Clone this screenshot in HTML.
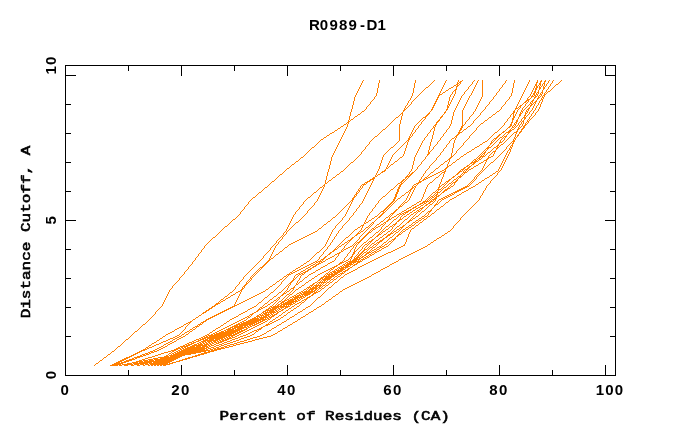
<!DOCTYPE html>
<html><head><meta charset="utf-8"><title>R0989-D1</title>
<style>html,body{margin:0;padding:0;background:#fff}svg{display:block}</style></head>
<body>
<svg width="680" height="440" viewBox="0 0 680 440">
<rect width="680" height="440" fill="#fff"/>
<path fill="#ff7f00" shape-rendering="crispEdges" d="M363 80h1v1h-1zM379 80h1v1h-1zM415 80h1v1h-1zM434 80h1v1h-1zM446 80h1v1h-1zM458 80h1v1h-1zM462 80h1v1h-1zM474 80h1v1h-1zM478 80h1v1h-1zM482 80h1v1h-1zM506 80h1v1h-1zM514 80h1v1h-1zM529 80h1v1h-1zM537 80h1v1h-1zM541 80h1v1h-1zM545 80h1v1h-1zM549 80h1v1h-1zM553 80h1v1h-1zM561 80h1v1h-1zM362 81h1v1h-1zM379 81h1v1h-1zM415 81h1v1h-1zM433 81h1v1h-1zM445 81h1v1h-1zM458 81h1v1h-1zM460 81h2v1h-2zM473 81h1v1h-1zM477 81h1v1h-1zM482 81h1v1h-1zM505 81h1v1h-1zM514 81h1v1h-1zM529 81h1v1h-1zM537 81h1v1h-1zM540 81h2v1h-2zM544 81h2v1h-2zM548 81h1v1h-1zM552 81h1v1h-1zM560 81h1v1h-1zM362 82h1v1h-1zM379 82h1v1h-1zM415 82h1v1h-1zM432 82h1v1h-1zM445 82h1v1h-1zM457 82h1v1h-1zM459 82h2v1h-2zM472 82h1v1h-1zM477 82h1v1h-1zM482 82h1v1h-1zM505 82h1v1h-1zM514 82h1v1h-1zM528 82h1v1h-1zM536 82h2v1h-2zM540 82h1v1h-1zM544 82h1v1h-1zM548 82h1v1h-1zM552 82h1v1h-1zM559 82h1v1h-1zM361 83h1v1h-1zM378 83h1v1h-1zM414 83h1v1h-1zM431 83h1v1h-1zM444 83h1v1h-1zM457 83h2v1h-2zM460 83h1v1h-1zM472 83h1v1h-1zM476 83h1v1h-1zM482 83h1v1h-1zM504 83h1v1h-1zM513 83h1v1h-1zM528 83h1v1h-1zM536 83h1v1h-1zM539 83h2v1h-2zM543 83h2v1h-2zM547 83h1v1h-1zM551 83h1v1h-1zM558 83h1v1h-1zM361 84h1v1h-1zM378 84h1v1h-1zM414 84h1v1h-1zM430 84h1v1h-1zM444 84h1v1h-1zM456 84h2v1h-2zM459 84h1v1h-1zM471 84h1v1h-1zM476 84h1v1h-1zM482 84h1v1h-1zM503 84h1v1h-1zM513 84h1v1h-1zM527 84h1v1h-1zM535 84h2v1h-2zM539 84h2v1h-2zM542 84h1v1h-1zM544 84h1v1h-1zM546 84h1v1h-1zM550 84h1v1h-1zM556 84h2v1h-2zM360 85h1v1h-1zM378 85h1v1h-1zM414 85h1v1h-1zM429 85h1v1h-1zM443 85h1v1h-1zM454 85h2v1h-2zM457 85h2v1h-2zM470 85h1v1h-1zM475 85h1v1h-1zM482 85h1v1h-1zM502 85h1v1h-1zM513 85h1v1h-1zM527 85h1v1h-1zM535 85h2v1h-2zM538 85h1v1h-1zM540 85h1v1h-1zM542 85h1v1h-1zM544 85h1v1h-1zM546 85h1v1h-1zM550 85h1v1h-1zM555 85h1v1h-1zM360 86h1v1h-1zM378 86h1v1h-1zM414 86h1v1h-1zM428 86h1v1h-1zM443 86h1v1h-1zM453 86h1v1h-1zM456 86h2v1h-2zM469 86h1v1h-1zM475 86h1v1h-1zM482 86h1v1h-1zM502 86h1v1h-1zM513 86h1v1h-1zM526 86h1v1h-1zM534 86h1v1h-1zM536 86h2v1h-2zM539 86h1v1h-1zM541 86h1v1h-1zM543 86h1v1h-1zM545 86h1v1h-1zM549 86h1v1h-1zM554 86h1v1h-1zM359 87h1v1h-1zM378 87h1v1h-1zM414 87h1v1h-1zM426 87h2v1h-2zM442 87h1v1h-1zM451 87h2v1h-2zM456 87h1v1h-1zM468 87h1v1h-1zM474 87h1v1h-1zM482 87h1v1h-1zM501 87h1v1h-1zM513 87h1v1h-1zM526 87h1v1h-1zM534 87h1v1h-1zM536 87h2v1h-2zM539 87h2v1h-2zM543 87h2v1h-2zM548 87h1v1h-1zM553 87h1v1h-1zM359 88h1v1h-1zM377 88h1v1h-1zM413 88h1v1h-1zM425 88h1v1h-1zM442 88h1v1h-1zM449 88h2v1h-2zM456 88h1v1h-1zM468 88h1v1h-1zM474 88h1v1h-1zM482 88h1v1h-1zM500 88h1v1h-1zM512 88h1v1h-1zM525 88h1v1h-1zM533 88h1v1h-1zM535 88h2v1h-2zM539 88h2v1h-2zM543 88h2v1h-2zM548 88h1v1h-1zM552 88h1v1h-1zM358 89h1v1h-1zM377 89h1v1h-1zM413 89h1v1h-1zM424 89h1v1h-1zM441 89h1v1h-1zM448 89h1v1h-1zM455 89h2v1h-2zM467 89h1v1h-1zM473 89h1v1h-1zM482 89h1v1h-1zM499 89h1v1h-1zM512 89h1v1h-1zM525 89h1v1h-1zM533 89h1v1h-1zM535 89h2v1h-2zM539 89h1v1h-1zM543 89h1v1h-1zM547 89h1v1h-1zM551 89h1v1h-1zM358 90h1v1h-1zM377 90h1v1h-1zM413 90h1v1h-1zM423 90h1v1h-1zM441 90h1v1h-1zM446 90h2v1h-2zM454 90h2v1h-2zM466 90h1v1h-1zM473 90h1v1h-1zM482 90h1v1h-1zM499 90h1v1h-1zM512 90h1v1h-1zM524 90h1v1h-1zM532 90h1v1h-1zM535 90h1v1h-1zM538 90h1v1h-1zM542 90h1v1h-1zM546 90h1v1h-1zM550 90h1v1h-1zM357 91h1v1h-1zM377 91h1v1h-1zM413 91h1v1h-1zM422 91h1v1h-1zM440 91h1v1h-1zM445 91h1v1h-1zM453 91h1v1h-1zM455 91h1v1h-1zM465 91h1v1h-1zM472 91h1v1h-1zM482 91h1v1h-1zM498 91h1v1h-1zM512 91h1v1h-1zM524 91h1v1h-1zM532 91h1v1h-1zM534 91h2v1h-2zM538 91h1v1h-1zM542 91h1v1h-1zM546 91h1v1h-1zM548 91h2v1h-2zM357 92h1v1h-1zM377 92h1v1h-1zM413 92h1v1h-1zM421 92h1v1h-1zM440 92h1v1h-1zM443 92h2v1h-2zM452 92h1v1h-1zM455 92h1v1h-1zM464 92h1v1h-1zM472 92h1v1h-1zM482 92h1v1h-1zM497 92h1v1h-1zM512 92h1v1h-1zM523 92h1v1h-1zM531 92h1v1h-1zM534 92h2v1h-2zM537 92h2v1h-2zM541 92h2v1h-2zM545 92h1v1h-1zM547 92h1v1h-1zM356 93h1v1h-1zM376 93h1v1h-1zM412 93h1v1h-1zM420 93h1v1h-1zM439 93h1v1h-1zM442 93h1v1h-1zM452 93h1v1h-1zM455 93h1v1h-1zM464 93h1v1h-1zM471 93h1v1h-1zM482 93h1v1h-1zM496 93h1v1h-1zM511 93h1v1h-1zM523 93h1v1h-1zM531 93h1v1h-1zM533 93h2v1h-2zM536 93h1v1h-1zM538 93h1v1h-1zM540 93h1v1h-1zM542 93h1v1h-1zM544 93h1v1h-1zM546 93h1v1h-1zM356 94h1v1h-1zM376 94h1v1h-1zM412 94h1v1h-1zM419 94h1v1h-1zM439 94h3v1h-3zM451 94h1v1h-1zM454 94h1v1h-1zM463 94h1v1h-1zM471 94h1v1h-1zM482 94h1v1h-1zM496 94h1v1h-1zM511 94h1v1h-1zM522 94h1v1h-1zM530 94h1v1h-1zM533 94h2v1h-2zM536 94h2v1h-2zM540 94h2v1h-2zM544 94h2v1h-2zM355 95h1v1h-1zM376 95h1v1h-1zM412 95h1v1h-1zM418 95h1v1h-1zM438 95h2v1h-2zM450 95h1v1h-1zM454 95h1v1h-1zM462 95h1v1h-1zM470 95h1v1h-1zM482 95h1v1h-1zM495 95h1v1h-1zM511 95h1v1h-1zM522 95h1v1h-1zM530 95h1v1h-1zM532 95h1v1h-1zM534 95h2v1h-2zM537 95h1v1h-1zM539 95h1v1h-1zM541 95h1v1h-1zM543 95h2v1h-2zM355 96h1v1h-1zM375 96h1v1h-1zM411 96h1v1h-1zM417 96h1v1h-1zM438 96h1v1h-1zM450 96h1v1h-1zM453 96h1v1h-1zM461 96h1v1h-1zM469 96h1v1h-1zM482 96h1v1h-1zM494 96h1v1h-1zM510 96h1v1h-1zM521 96h1v1h-1zM529 96h1v1h-1zM531 96h3v1h-3zM535 96h2v1h-2zM538 96h1v1h-1zM540 96h1v1h-1zM542 96h1v1h-1zM544 96h1v1h-1zM354 97h1v1h-1zM374 97h1v1h-1zM411 97h1v1h-1zM416 97h1v1h-1zM437 97h2v1h-2zM449 97h1v1h-1zM453 97h1v1h-1zM461 97h1v1h-1zM469 97h1v1h-1zM481 97h1v1h-1zM493 97h1v1h-1zM509 97h1v1h-1zM521 97h1v1h-1zM528 97h1v1h-1zM531 97h1v1h-1zM534 97h2v1h-2zM538 97h2v1h-2zM542 97h2v1h-2zM354 98h1v1h-1zM374 98h1v1h-1zM410 98h1v1h-1zM415 98h1v1h-1zM437 98h1v1h-1zM449 98h1v1h-1zM452 98h1v1h-1zM460 98h1v1h-1zM468 98h1v1h-1zM481 98h1v1h-1zM493 98h1v1h-1zM509 98h1v1h-1zM520 98h1v1h-1zM527 98h1v1h-1zM530 98h1v1h-1zM534 98h1v1h-1zM537 98h2v1h-2zM541 98h1v1h-1zM543 98h1v1h-1zM354 99h1v1h-1zM373 99h1v1h-1zM410 99h1v1h-1zM414 99h1v1h-1zM436 99h2v1h-2zM449 99h1v1h-1zM452 99h1v1h-1zM460 99h1v1h-1zM468 99h1v1h-1zM480 99h1v1h-1zM492 99h1v1h-1zM508 99h1v1h-1zM520 99h1v1h-1zM527 99h3v1h-3zM533 99h1v1h-1zM537 99h1v1h-1zM541 99h2v1h-2zM354 100h1v1h-1zM372 100h1v1h-1zM409 100h1v1h-1zM413 100h1v1h-1zM436 100h1v1h-1zM449 100h1v1h-1zM451 100h1v1h-1zM459 100h1v1h-1zM467 100h1v1h-1zM480 100h1v1h-1zM491 100h1v1h-1zM507 100h1v1h-1zM519 100h1v1h-1zM526 100h3v1h-3zM532 100h2v1h-2zM536 100h1v1h-1zM540 100h1v1h-1zM542 100h1v1h-1zM353 101h1v1h-1zM371 101h1v1h-1zM408 101h1v1h-1zM412 101h1v1h-1zM435 101h2v1h-2zM448 101h1v1h-1zM451 101h1v1h-1zM459 101h1v1h-1zM467 101h1v1h-1zM479 101h1v1h-1zM490 101h1v1h-1zM506 101h1v1h-1zM519 101h1v1h-1zM525 101h2v1h-2zM528 101h1v1h-1zM531 101h2v1h-2zM535 101h2v1h-2zM539 101h1v1h-1zM542 101h1v1h-1zM353 102h1v1h-1zM370 102h1v1h-1zM408 102h1v1h-1zM411 102h1v1h-1zM435 102h1v1h-1zM448 102h1v1h-1zM450 102h1v1h-1zM458 102h1v1h-1zM466 102h1v1h-1zM479 102h1v1h-1zM489 102h1v1h-1zM505 102h1v1h-1zM518 102h1v1h-1zM524 102h2v1h-2zM527 102h1v1h-1zM530 102h1v1h-1zM532 102h1v1h-1zM534 102h2v1h-2zM539 102h1v1h-1zM541 102h1v1h-1zM353 103h1v1h-1zM370 103h1v1h-1zM407 103h1v1h-1zM411 103h1v1h-1zM434 103h2v1h-2zM448 103h1v1h-1zM450 103h1v1h-1zM458 103h1v1h-1zM466 103h1v1h-1zM478 103h1v1h-1zM489 103h1v1h-1zM505 103h1v1h-1zM518 103h1v1h-1zM523 103h1v1h-1zM526 103h1v1h-1zM530 103h2v1h-2zM533 103h1v1h-1zM535 103h1v1h-1zM538 103h1v1h-1zM541 103h1v1h-1zM353 104h1v1h-1zM369 104h1v1h-1zM407 104h1v1h-1zM410 104h1v1h-1zM434 104h1v1h-1zM448 104h2v1h-2zM457 104h1v1h-1zM465 104h1v1h-1zM478 104h1v1h-1zM488 104h1v1h-1zM504 104h1v1h-1zM517 104h1v1h-1zM522 104h1v1h-1zM525 104h1v1h-1zM529 104h1v1h-1zM531 104h2v1h-2zM534 104h1v1h-1zM538 104h1v1h-1zM540 104h1v1h-1zM352 105h1v1h-1zM368 105h1v1h-1zM406 105h1v1h-1zM409 105h1v1h-1zM433 105h2v1h-2zM447 105h1v1h-1zM449 105h1v1h-1zM457 105h1v1h-1zM465 105h1v1h-1zM477 105h1v1h-1zM487 105h1v1h-1zM503 105h1v1h-1zM517 105h1v1h-1zM520 105h2v1h-2zM525 105h1v1h-1zM528 105h1v1h-1zM530 105h2v1h-2zM534 105h1v1h-1zM537 105h1v1h-1zM540 105h1v1h-1zM352 106h1v1h-1zM367 106h1v1h-1zM405 106h1v1h-1zM408 106h1v1h-1zM433 106h1v1h-1zM447 106h2v1h-2zM456 106h1v1h-1zM464 106h1v1h-1zM477 106h1v1h-1zM486 106h1v1h-1zM502 106h1v1h-1zM516 106h1v1h-1zM519 106h2v1h-2zM524 106h1v1h-1zM527 106h1v1h-1zM530 106h1v1h-1zM533 106h1v1h-1zM536 106h1v1h-1zM540 106h1v1h-1zM352 107h1v1h-1zM366 107h1v1h-1zM405 107h1v1h-1zM407 107h1v1h-1zM432 107h2v1h-2zM447 107h2v1h-2zM456 107h1v1h-1zM464 107h1v1h-1zM476 107h1v1h-1zM485 107h1v1h-1zM501 107h1v1h-1zM516 107h1v1h-1zM518 107h1v1h-1zM520 107h1v1h-1zM523 107h1v1h-1zM526 107h1v1h-1zM529 107h1v1h-1zM533 107h1v1h-1zM536 107h1v1h-1zM539 107h1v1h-1zM352 108h1v1h-1zM366 108h1v1h-1zM404 108h1v1h-1zM406 108h1v1h-1zM432 108h1v1h-1zM447 108h1v1h-1zM455 108h1v1h-1zM463 108h1v1h-1zM476 108h1v1h-1zM485 108h1v1h-1zM501 108h1v1h-1zM515 108h3v1h-3zM519 108h1v1h-1zM522 108h1v1h-1zM525 108h1v1h-1zM528 108h2v1h-2zM532 108h1v1h-1zM535 108h1v1h-1zM539 108h1v1h-1zM351 109h1v1h-1zM365 109h1v1h-1zM404 109h2v1h-2zM431 109h2v1h-2zM446 109h2v1h-2zM455 109h1v1h-1zM463 109h1v1h-1zM475 109h1v1h-1zM484 109h1v1h-1zM500 109h1v1h-1zM515 109h1v1h-1zM518 109h1v1h-1zM522 109h1v1h-1zM524 109h1v1h-1zM527 109h2v1h-2zM532 109h1v1h-1zM535 109h1v1h-1zM538 109h1v1h-1zM351 110h1v1h-1zM364 110h1v1h-1zM403 110h2v1h-2zM431 110h1v1h-1zM446 110h1v1h-1zM454 110h1v1h-1zM462 110h1v1h-1zM475 110h1v1h-1zM483 110h1v1h-1zM499 110h1v1h-1zM514 110h1v1h-1zM517 110h1v1h-1zM521 110h1v1h-1zM523 110h1v1h-1zM526 110h1v1h-1zM528 110h1v1h-1zM531 110h1v1h-1zM534 110h1v1h-1zM538 110h1v1h-1zM351 111h1v1h-1zM362 111h2v1h-2zM403 111h1v1h-1zM430 111h1v1h-1zM445 111h1v1h-1zM454 111h1v1h-1zM462 111h1v1h-1zM474 111h1v1h-1zM482 111h1v1h-1zM497 111h2v1h-2zM513 111h2v1h-2zM517 111h1v1h-1zM521 111h2v1h-2zM526 111h2v1h-2zM530 111h1v1h-1zM533 111h1v1h-1zM537 111h1v1h-1zM350 112h1v1h-1zM361 112h1v1h-1zM402 112h1v1h-1zM429 112h1v1h-1zM444 112h2v1h-2zM453 112h1v1h-1zM462 112h1v1h-1zM473 112h1v1h-1zM481 112h1v1h-1zM496 112h1v1h-1zM513 112h2v1h-2zM516 112h1v1h-1zM520 112h1v1h-1zM522 112h1v1h-1zM525 112h1v1h-1zM527 112h1v1h-1zM529 112h1v1h-1zM533 112h1v1h-1zM536 112h1v1h-1zM350 113h1v1h-1zM360 113h1v1h-1zM401 113h2v1h-2zM428 113h2v1h-2zM444 113h1v1h-1zM453 113h1v1h-1zM462 113h1v1h-1zM473 113h1v1h-1zM480 113h1v1h-1zM495 113h1v1h-1zM512 113h2v1h-2zM516 113h1v1h-1zM520 113h2v1h-2zM525 113h2v1h-2zM529 113h1v1h-1zM532 113h1v1h-1zM535 113h1v1h-1zM350 114h1v1h-1zM358 114h2v1h-2zM400 114h1v1h-1zM402 114h1v1h-1zM427 114h2v1h-2zM443 114h1v1h-1zM453 114h1v1h-1zM462 114h1v1h-1zM472 114h1v1h-1zM480 114h1v1h-1zM493 114h2v1h-2zM511 114h1v1h-1zM513 114h1v1h-1zM515 114h1v1h-1zM519 114h2v1h-2zM525 114h1v1h-1zM528 114h1v1h-1zM531 114h1v1h-1zM535 114h1v1h-1zM350 115h1v1h-1zM357 115h1v1h-1zM399 115h1v1h-1zM402 115h1v1h-1zM426 115h2v1h-2zM442 115h1v1h-1zM453 115h1v1h-1zM462 115h1v1h-1zM471 115h1v1h-1zM479 115h1v1h-1zM492 115h1v1h-1zM510 115h1v1h-1zM513 115h1v1h-1zM515 115h1v1h-1zM519 115h2v1h-2zM524 115h2v1h-2zM527 115h1v1h-1zM531 115h1v1h-1zM534 115h1v1h-1zM349 116h1v1h-1zM355 116h2v1h-2zM398 116h1v1h-1zM401 116h1v1h-1zM425 116h2v1h-2zM441 116h2v1h-2zM452 116h1v1h-1zM462 116h1v1h-1zM470 116h1v1h-1zM478 116h1v1h-1zM491 116h1v1h-1zM510 116h1v1h-1zM513 116h2v1h-2zM519 116h1v1h-1zM524 116h1v1h-1zM526 116h1v1h-1zM530 116h1v1h-1zM533 116h1v1h-1zM349 117h1v1h-1zM354 117h1v1h-1zM396 117h2v1h-2zM401 117h1v1h-1zM423 117h3v1h-3zM440 117h2v1h-2zM452 117h1v1h-1zM462 117h1v1h-1zM469 117h1v1h-1zM477 117h1v1h-1zM489 117h2v1h-2zM509 117h1v1h-1zM513 117h2v1h-2zM518 117h1v1h-1zM523 117h3v1h-3zM529 117h1v1h-1zM532 117h1v1h-1zM349 118h1v1h-1zM353 118h1v1h-1zM395 118h1v1h-1zM401 118h1v1h-1zM422 118h1v1h-1zM425 118h1v1h-1zM440 118h1v1h-1zM452 118h1v1h-1zM462 118h1v1h-1zM469 118h1v1h-1zM476 118h1v1h-1zM488 118h1v1h-1zM508 118h1v1h-1zM512 118h2v1h-2zM518 118h1v1h-1zM522 118h1v1h-1zM524 118h2v1h-2zM529 118h1v1h-1zM531 118h1v1h-1zM349 119h1v1h-1zM351 119h2v1h-2zM394 119h1v1h-1zM401 119h1v1h-1zM421 119h1v1h-1zM424 119h1v1h-1zM439 119h1v1h-1zM452 119h1v1h-1zM462 119h1v1h-1zM468 119h1v1h-1zM475 119h1v1h-1zM487 119h1v1h-1zM507 119h1v1h-1zM512 119h2v1h-2zM517 119h1v1h-1zM521 119h1v1h-1zM524 119h1v1h-1zM528 119h1v1h-1zM530 119h1v1h-1zM348 120h1v1h-1zM350 120h1v1h-1zM393 120h1v1h-1zM400 120h1v1h-1zM420 120h1v1h-1zM423 120h1v1h-1zM438 120h2v1h-2zM451 120h1v1h-1zM462 120h1v1h-1zM467 120h1v1h-1zM474 120h1v1h-1zM485 120h2v1h-2zM507 120h1v1h-1zM512 120h1v1h-1zM516 120h2v1h-2zM521 120h1v1h-1zM523 120h1v1h-1zM527 120h1v1h-1zM529 120h1v1h-1zM348 121h2v1h-2zM392 121h1v1h-1zM400 121h1v1h-1zM419 121h1v1h-1zM422 121h1v1h-1zM437 121h2v1h-2zM451 121h1v1h-1zM462 121h1v1h-1zM466 121h1v1h-1zM473 121h1v1h-1zM484 121h1v1h-1zM506 121h1v1h-1zM512 121h1v1h-1zM516 121h2v1h-2zM520 121h1v1h-1zM522 121h2v1h-2zM527 121h2v1h-2zM347 122h2v1h-2zM391 122h1v1h-1zM400 122h1v1h-1zM418 122h1v1h-1zM421 122h1v1h-1zM436 122h2v1h-2zM451 122h1v1h-1zM462 122h1v1h-1zM465 122h1v1h-1zM473 122h1v1h-1zM483 122h1v1h-1zM505 122h1v1h-1zM511 122h2v1h-2zM515 122h2v1h-2zM519 122h1v1h-1zM521 122h1v1h-1zM523 122h1v1h-1zM526 122h1v1h-1zM528 122h1v1h-1zM346 123h1v1h-1zM348 123h1v1h-1zM390 123h1v1h-1zM400 123h1v1h-1zM417 123h1v1h-1zM421 123h1v1h-1zM436 123h1v1h-1zM451 123h1v1h-1zM462 123h1v1h-1zM465 123h1v1h-1zM472 123h1v1h-1zM481 123h2v1h-2zM504 123h1v1h-1zM511 123h1v1h-1zM514 123h1v1h-1zM516 123h1v1h-1zM518 123h1v1h-1zM521 123h1v1h-1zM523 123h1v1h-1zM525 123h1v1h-1zM527 123h1v1h-1zM344 124h2v1h-2zM347 124h1v1h-1zM389 124h1v1h-1zM399 124h1v1h-1zM416 124h1v1h-1zM420 124h1v1h-1zM435 124h2v1h-2zM450 124h1v1h-1zM462 124h1v1h-1zM464 124h1v1h-1zM471 124h1v1h-1zM480 124h1v1h-1zM504 124h1v1h-1zM510 124h2v1h-2zM514 124h2v1h-2zM518 124h1v1h-1zM520 124h1v1h-1zM522 124h1v1h-1zM525 124h2v1h-2zM343 125h1v1h-1zM347 125h1v1h-1zM388 125h1v1h-1zM399 125h1v1h-1zM415 125h1v1h-1zM419 125h1v1h-1zM434 125h2v1h-2zM450 125h1v1h-1zM462 125h2v1h-2zM470 125h1v1h-1zM479 125h1v1h-1zM503 125h1v1h-1zM510 125h2v1h-2zM513 125h1v1h-1zM515 125h1v1h-1zM517 125h1v1h-1zM519 125h1v1h-1zM522 125h1v1h-1zM524 125h2v1h-2zM341 126h2v1h-2zM347 126h1v1h-1zM387 126h1v1h-1zM399 126h1v1h-1zM414 126h1v1h-1zM418 126h1v1h-1zM433 126h1v1h-1zM435 126h1v1h-1zM449 126h1v1h-1zM461 126h2v1h-2zM468 126h2v1h-2zM478 126h1v1h-1zM502 126h1v1h-1zM509 126h2v1h-2zM512 126h1v1h-1zM514 126h1v1h-1zM516 126h1v1h-1zM519 126h1v1h-1zM521 126h1v1h-1zM523 126h2v1h-2zM340 127h1v1h-1zM346 127h1v1h-1zM386 127h1v1h-1zM399 127h1v1h-1zM414 127h1v1h-1zM418 127h1v1h-1zM433 127h2v1h-2zM449 127h1v1h-1zM461 127h2v1h-2zM467 127h1v1h-1zM477 127h1v1h-1zM501 127h1v1h-1zM508 127h2v1h-2zM512 127h2v1h-2zM515 127h1v1h-1zM518 127h1v1h-1zM520 127h1v1h-1zM523 127h2v1h-2zM338 128h2v1h-2zM346 128h1v1h-1zM385 128h1v1h-1zM399 128h1v1h-1zM413 128h1v1h-1zM417 128h1v1h-1zM432 128h1v1h-1zM434 128h1v1h-1zM448 128h1v1h-1zM460 128h2v1h-2zM466 128h1v1h-1zM476 128h1v1h-1zM500 128h1v1h-1zM507 128h1v1h-1zM511 128h1v1h-1zM514 128h1v1h-1zM518 128h2v1h-2zM522 128h2v1h-2zM337 129h1v1h-1zM345 129h1v1h-1zM383 129h2v1h-2zM399 129h1v1h-1zM413 129h1v1h-1zM416 129h1v1h-1zM431 129h1v1h-1zM434 129h1v1h-1zM447 129h1v1h-1zM460 129h2v1h-2zM464 129h2v1h-2zM476 129h1v1h-1zM499 129h1v1h-1zM506 129h1v1h-1zM510 129h1v1h-1zM512 129h2v1h-2zM517 129h2v1h-2zM521 129h2v1h-2zM335 130h2v1h-2zM345 130h1v1h-1zM382 130h1v1h-1zM399 130h1v1h-1zM412 130h1v1h-1zM415 130h1v1h-1zM430 130h1v1h-1zM434 130h1v1h-1zM446 130h1v1h-1zM459 130h2v1h-2zM463 130h1v1h-1zM475 130h1v1h-1zM498 130h1v1h-1zM505 130h1v1h-1zM509 130h3v1h-3zM517 130h1v1h-1zM521 130h1v1h-1zM334 131h1v1h-1zM344 131h1v1h-1zM381 131h1v1h-1zM399 131h1v1h-1zM412 131h1v1h-1zM415 131h1v1h-1zM430 131h1v1h-1zM433 131h1v1h-1zM446 131h1v1h-1zM459 131h1v1h-1zM462 131h1v1h-1zM474 131h1v1h-1zM497 131h1v1h-1zM503 131h2v1h-2zM508 131h3v1h-3zM516 131h2v1h-2zM520 131h2v1h-2zM332 132h2v1h-2zM344 132h1v1h-1zM380 132h1v1h-1zM399 132h1v1h-1zM411 132h1v1h-1zM414 132h1v1h-1zM429 132h1v1h-1zM433 132h1v1h-1zM445 132h1v1h-1zM458 132h4v1h-4zM473 132h1v1h-1zM495 132h2v1h-2zM502 132h2v1h-2zM506 132h4v1h-4zM514 132h3v1h-3zM519 132h2v1h-2zM330 133h2v1h-2zM343 133h1v1h-1zM379 133h1v1h-1zM399 133h1v1h-1zM411 133h1v1h-1zM413 133h1v1h-1zM428 133h1v1h-1zM433 133h1v1h-1zM444 133h1v1h-1zM458 133h2v1h-2zM472 133h1v1h-1zM494 133h1v1h-1zM501 133h1v1h-1zM505 133h1v1h-1zM508 133h1v1h-1zM513 133h1v1h-1zM516 133h1v1h-1zM519 133h1v1h-1zM329 134h1v1h-1zM343 134h1v1h-1zM378 134h1v1h-1zM399 134h1v1h-1zM410 134h1v1h-1zM412 134h1v1h-1zM427 134h1v1h-1zM433 134h1v1h-1zM443 134h1v1h-1zM457 134h2v1h-2zM471 134h1v1h-1zM493 134h1v1h-1zM499 134h2v1h-2zM504 134h1v1h-1zM507 134h1v1h-1zM512 134h1v1h-1zM515 134h1v1h-1zM518 134h1v1h-1zM327 135h2v1h-2zM342 135h1v1h-1zM377 135h1v1h-1zM399 135h1v1h-1zM410 135h1v1h-1zM412 135h1v1h-1zM427 135h1v1h-1zM432 135h1v1h-1zM443 135h1v1h-1zM456 135h2v1h-2zM470 135h1v1h-1zM492 135h1v1h-1zM498 135h2v1h-2zM503 135h1v1h-1zM506 135h1v1h-1zM511 135h1v1h-1zM515 135h1v1h-1zM517 135h2v1h-2zM326 136h1v1h-1zM342 136h1v1h-1zM375 136h2v1h-2zM399 136h1v1h-1zM409 136h1v1h-1zM411 136h1v1h-1zM426 136h1v1h-1zM432 136h1v1h-1zM442 136h1v1h-1zM455 136h2v1h-2zM469 136h1v1h-1zM491 136h1v1h-1zM497 136h2v1h-2zM502 136h1v1h-1zM504 136h3v1h-3zM510 136h1v1h-1zM515 136h1v1h-1zM517 136h1v1h-1zM324 137h2v1h-2zM341 137h1v1h-1zM374 137h1v1h-1zM399 137h1v1h-1zM409 137h2v1h-2zM425 137h1v1h-1zM432 137h1v1h-1zM441 137h1v1h-1zM454 137h1v1h-1zM456 137h1v1h-1zM469 137h1v1h-1zM490 137h1v1h-1zM496 137h2v1h-2zM500 137h2v1h-2zM503 137h1v1h-1zM505 137h1v1h-1zM509 137h1v1h-1zM514 137h1v1h-1zM516 137h1v1h-1zM323 138h1v1h-1zM341 138h1v1h-1zM373 138h1v1h-1zM399 138h1v1h-1zM408 138h2v1h-2zM424 138h1v1h-1zM432 138h1v1h-1zM440 138h1v1h-1zM452 138h2v1h-2zM455 138h1v1h-1zM468 138h1v1h-1zM489 138h1v1h-1zM494 138h3v1h-3zM499 138h1v1h-1zM502 138h1v1h-1zM504 138h1v1h-1zM508 138h1v1h-1zM514 138h2v1h-2zM321 139h2v1h-2zM340 139h1v1h-1zM372 139h1v1h-1zM399 139h1v1h-1zM408 139h2v1h-2zM424 139h1v1h-1zM431 139h1v1h-1zM440 139h1v1h-1zM451 139h1v1h-1zM455 139h1v1h-1zM467 139h1v1h-1zM488 139h1v1h-1zM493 139h1v1h-1zM495 139h1v1h-1zM498 139h1v1h-1zM501 139h1v1h-1zM504 139h1v1h-1zM507 139h1v1h-1zM513 139h1v1h-1zM515 139h1v1h-1zM320 140h1v1h-1zM340 140h1v1h-1zM371 140h1v1h-1zM399 140h1v1h-1zM407 140h2v1h-2zM423 140h1v1h-1zM431 140h1v1h-1zM439 140h1v1h-1zM450 140h1v1h-1zM454 140h1v1h-1zM466 140h1v1h-1zM487 140h1v1h-1zM492 140h1v1h-1zM494 140h1v1h-1zM497 140h1v1h-1zM500 140h1v1h-1zM503 140h1v1h-1zM506 140h1v1h-1zM513 140h2v1h-2zM319 141h1v1h-1zM339 141h1v1h-1zM370 141h1v1h-1zM398 141h1v1h-1zM406 141h1v1h-1zM408 141h1v1h-1zM422 141h1v1h-1zM431 141h1v1h-1zM438 141h1v1h-1zM449 141h1v1h-1zM454 141h1v1h-1zM465 141h1v1h-1zM485 141h2v1h-2zM491 141h1v1h-1zM493 141h1v1h-1zM496 141h1v1h-1zM500 141h1v1h-1zM502 141h1v1h-1zM505 141h1v1h-1zM512 141h3v1h-3zM318 142h1v1h-1zM339 142h1v1h-1zM369 142h1v1h-1zM397 142h1v1h-1zM405 142h1v1h-1zM407 142h1v1h-1zM422 142h1v1h-1zM430 142h1v1h-1zM437 142h1v1h-1zM449 142h1v1h-1zM454 142h1v1h-1zM464 142h1v1h-1zM483 142h2v1h-2zM491 142h2v1h-2zM495 142h1v1h-1zM499 142h3v1h-3zM504 142h1v1h-1zM511 142h1v1h-1zM513 142h1v1h-1zM317 143h1v1h-1zM338 143h1v1h-1zM369 143h1v1h-1zM396 143h1v1h-1zM404 143h1v1h-1zM407 143h1v1h-1zM421 143h1v1h-1zM430 143h1v1h-1zM437 143h1v1h-1zM448 143h1v1h-1zM453 143h1v1h-1zM463 143h1v1h-1zM482 143h1v1h-1zM490 143h2v1h-2zM494 143h1v1h-1zM499 143h1v1h-1zM503 143h1v1h-1zM510 143h1v1h-1zM512 143h2v1h-2zM316 144h1v1h-1zM338 144h1v1h-1zM368 144h1v1h-1zM395 144h1v1h-1zM403 144h1v1h-1zM407 144h1v1h-1zM421 144h1v1h-1zM430 144h1v1h-1zM436 144h1v1h-1zM447 144h1v1h-1zM453 144h1v1h-1zM463 144h1v1h-1zM480 144h2v1h-2zM490 144h1v1h-1zM493 144h1v1h-1zM498 144h1v1h-1zM501 144h2v1h-2zM509 144h1v1h-1zM512 144h1v1h-1zM315 145h1v1h-1zM337 145h1v1h-1zM367 145h1v1h-1zM394 145h1v1h-1zM402 145h1v1h-1zM406 145h1v1h-1zM420 145h1v1h-1zM430 145h1v1h-1zM435 145h1v1h-1zM446 145h1v1h-1zM453 145h1v1h-1zM462 145h1v1h-1zM479 145h1v1h-1zM489 145h1v1h-1zM492 145h1v1h-1zM497 145h2v1h-2zM500 145h1v1h-1zM508 145h1v1h-1zM511 145h2v1h-2zM314 146h1v1h-1zM337 146h1v1h-1zM366 146h1v1h-1zM393 146h1v1h-1zM401 146h1v1h-1zM406 146h1v1h-1zM420 146h1v1h-1zM429 146h1v1h-1zM434 146h1v1h-1zM446 146h1v1h-1zM453 146h1v1h-1zM461 146h1v1h-1zM477 146h2v1h-2zM488 146h1v1h-1zM491 146h1v1h-1zM496 146h2v1h-2zM499 146h1v1h-1zM507 146h1v1h-1zM510 146h1v1h-1zM512 146h1v1h-1zM312 147h2v1h-2zM336 147h1v1h-1zM365 147h1v1h-1zM391 147h2v1h-2zM400 147h1v1h-1zM406 147h1v1h-1zM419 147h1v1h-1zM429 147h1v1h-1zM433 147h1v1h-1zM445 147h1v1h-1zM453 147h1v1h-1zM460 147h1v1h-1zM475 147h2v1h-2zM487 147h4v1h-4zM494 147h2v1h-2zM497 147h2v1h-2zM506 147h1v1h-1zM510 147h2v1h-2zM311 148h1v1h-1zM336 148h1v1h-1zM365 148h1v1h-1zM390 148h1v1h-1zM399 148h1v1h-1zM405 148h1v1h-1zM419 148h1v1h-1zM429 148h1v1h-1zM433 148h1v1h-1zM444 148h1v1h-1zM452 148h1v1h-1zM459 148h1v1h-1zM474 148h1v1h-1zM486 148h3v1h-3zM493 148h1v1h-1zM496 148h2v1h-2zM506 148h1v1h-1zM509 148h1v1h-1zM511 148h1v1h-1zM310 149h1v1h-1zM335 149h1v1h-1zM364 149h1v1h-1zM389 149h1v1h-1zM398 149h1v1h-1zM405 149h1v1h-1zM418 149h1v1h-1zM429 149h1v1h-1zM432 149h1v1h-1zM443 149h1v1h-1zM452 149h1v1h-1zM458 149h1v1h-1zM472 149h2v1h-2zM485 149h1v1h-1zM487 149h1v1h-1zM492 149h1v1h-1zM496 149h1v1h-1zM505 149h1v1h-1zM509 149h2v1h-2zM309 150h1v1h-1zM335 150h1v1h-1zM363 150h1v1h-1zM388 150h1v1h-1zM397 150h1v1h-1zM405 150h1v1h-1zM418 150h1v1h-1zM428 150h1v1h-1zM431 150h1v1h-1zM443 150h1v1h-1zM452 150h1v1h-1zM457 150h1v1h-1zM471 150h1v1h-1zM484 150h1v1h-1zM486 150h1v1h-1zM491 150h1v1h-1zM495 150h1v1h-1zM504 150h1v1h-1zM508 150h1v1h-1zM510 150h1v1h-1zM308 151h1v1h-1zM334 151h1v1h-1zM362 151h1v1h-1zM387 151h1v1h-1zM396 151h1v1h-1zM404 151h1v1h-1zM417 151h1v1h-1zM428 151h1v1h-1zM430 151h1v1h-1zM442 151h1v1h-1zM452 151h1v1h-1zM456 151h1v1h-1zM469 151h2v1h-2zM483 151h1v1h-1zM485 151h1v1h-1zM490 151h1v1h-1zM493 151h3v1h-3zM503 151h1v1h-1zM507 151h1v1h-1zM510 151h1v1h-1zM307 152h1v1h-1zM334 152h1v1h-1zM361 152h1v1h-1zM386 152h1v1h-1zM395 152h1v1h-1zM404 152h1v1h-1zM417 152h1v1h-1zM428 152h2v1h-2zM441 152h1v1h-1zM452 152h1v1h-1zM456 152h1v1h-1zM467 152h2v1h-2zM482 152h1v1h-1zM484 152h2v1h-2zM488 152h2v1h-2zM492 152h1v1h-1zM494 152h1v1h-1zM502 152h1v1h-1zM507 152h1v1h-1zM509 152h1v1h-1zM306 153h1v1h-1zM333 153h1v1h-1zM361 153h1v1h-1zM385 153h1v1h-1zM394 153h1v1h-1zM404 153h1v1h-1zM416 153h1v1h-1zM428 153h2v1h-2zM440 153h1v1h-1zM451 153h1v1h-1zM455 153h1v1h-1zM466 153h1v1h-1zM481 153h1v1h-1zM483 153h2v1h-2zM487 153h1v1h-1zM491 153h1v1h-1zM494 153h1v1h-1zM501 153h1v1h-1zM506 153h1v1h-1zM509 153h1v1h-1zM305 154h1v1h-1zM333 154h1v1h-1zM360 154h1v1h-1zM384 154h1v1h-1zM393 154h1v1h-1zM403 154h1v1h-1zM416 154h1v1h-1zM427 154h2v1h-2zM440 154h1v1h-1zM451 154h1v1h-1zM454 154h1v1h-1zM464 154h2v1h-2zM480 154h1v1h-1zM482 154h1v1h-1zM484 154h1v1h-1zM486 154h1v1h-1zM490 154h1v1h-1zM493 154h1v1h-1zM500 154h1v1h-1zM506 154h1v1h-1zM508 154h1v1h-1zM304 155h1v1h-1zM332 155h1v1h-1zM359 155h1v1h-1zM383 155h1v1h-1zM392 155h1v1h-1zM403 155h1v1h-1zM415 155h1v1h-1zM427 155h1v1h-1zM439 155h1v1h-1zM451 155h1v1h-1zM453 155h1v1h-1zM463 155h1v1h-1zM479 155h1v1h-1zM481 155h1v1h-1zM483 155h1v1h-1zM485 155h1v1h-1zM489 155h1v1h-1zM493 155h1v1h-1zM499 155h1v1h-1zM505 155h1v1h-1zM508 155h1v1h-1zM303 156h1v1h-1zM332 156h1v1h-1zM358 156h1v1h-1zM383 156h1v1h-1zM392 156h1v1h-1zM402 156h1v1h-1zM415 156h1v1h-1zM426 156h1v1h-1zM438 156h1v1h-1zM451 156h2v1h-2zM461 156h2v1h-2zM478 156h1v1h-1zM480 156h5v1h-5zM488 156h1v1h-1zM491 156h2v1h-2zM498 156h1v1h-1zM505 156h1v1h-1zM507 156h1v1h-1zM301 157h2v1h-2zM331 157h1v1h-1zM357 157h1v1h-1zM382 157h1v1h-1zM391 157h1v1h-1zM400 157h2v1h-2zM414 157h1v1h-1zM425 157h1v1h-1zM437 157h1v1h-1zM450 157h2v1h-2zM460 157h1v1h-1zM477 157h1v1h-1zM479 157h2v1h-2zM482 157h1v1h-1zM488 157h3v1h-3zM497 157h1v1h-1zM504 157h1v1h-1zM507 157h1v1h-1zM300 158h1v1h-1zM331 158h1v1h-1zM356 158h1v1h-1zM382 158h1v1h-1zM391 158h1v1h-1zM399 158h1v1h-1zM414 158h1v1h-1zM425 158h1v1h-1zM436 158h1v1h-1zM449 158h2v1h-2zM459 158h1v1h-1zM476 158h1v1h-1zM478 158h2v1h-2zM481 158h1v1h-1zM487 158h2v1h-2zM496 158h1v1h-1zM504 158h1v1h-1zM506 158h1v1h-1zM299 159h1v1h-1zM331 159h1v1h-1zM355 159h1v1h-1zM382 159h1v1h-1zM390 159h1v1h-1zM398 159h1v1h-1zM414 159h1v1h-1zM424 159h1v1h-1zM436 159h1v1h-1zM448 159h2v1h-2zM457 159h2v1h-2zM474 159h2v1h-2zM477 159h1v1h-1zM479 159h2v1h-2zM486 159h2v1h-2zM495 159h1v1h-1zM503 159h1v1h-1zM506 159h1v1h-1zM298 160h1v1h-1zM331 160h1v1h-1zM354 160h1v1h-1zM381 160h1v1h-1zM390 160h1v1h-1zM397 160h1v1h-1zM414 160h1v1h-1zM423 160h1v1h-1zM435 160h1v1h-1zM447 160h1v1h-1zM449 160h1v1h-1zM456 160h1v1h-1zM473 160h1v1h-1zM475 160h2v1h-2zM478 160h1v1h-1zM484 160h3v1h-3zM494 160h1v1h-1zM503 160h1v1h-1zM505 160h1v1h-1zM296 161h2v1h-2zM330 161h1v1h-1zM353 161h1v1h-1zM381 161h1v1h-1zM389 161h1v1h-1zM395 161h2v1h-2zM413 161h1v1h-1zM422 161h1v1h-1zM434 161h1v1h-1zM445 161h2v1h-2zM449 161h1v1h-1zM455 161h1v1h-1zM472 161h1v1h-1zM474 161h4v1h-4zM483 161h1v1h-1zM486 161h1v1h-1zM493 161h1v1h-1zM502 161h1v1h-1zM505 161h1v1h-1zM295 162h1v1h-1zM330 162h1v1h-1zM351 162h2v1h-2zM381 162h1v1h-1zM389 162h1v1h-1zM394 162h1v1h-1zM413 162h1v1h-1zM421 162h1v1h-1zM433 162h1v1h-1zM444 162h1v1h-1zM448 162h1v1h-1zM453 162h2v1h-2zM471 162h5v1h-5zM481 162h2v1h-2zM485 162h1v1h-1zM491 162h2v1h-2zM502 162h1v1h-1zM504 162h1v1h-1zM294 163h1v1h-1zM330 163h1v1h-1zM350 163h1v1h-1zM380 163h1v1h-1zM388 163h1v1h-1zM393 163h1v1h-1zM413 163h1v1h-1zM421 163h1v1h-1zM432 163h1v1h-1zM443 163h1v1h-1zM448 163h1v1h-1zM452 163h1v1h-1zM470 163h2v1h-2zM473 163h2v1h-2zM479 163h2v1h-2zM485 163h1v1h-1zM490 163h1v1h-1zM501 163h1v1h-1zM504 163h1v1h-1zM292 164h2v1h-2zM330 164h1v1h-1zM349 164h1v1h-1zM380 164h1v1h-1zM388 164h1v1h-1zM391 164h2v1h-2zM413 164h1v1h-1zM420 164h1v1h-1zM431 164h1v1h-1zM441 164h2v1h-2zM447 164h1v1h-1zM451 164h1v1h-1zM469 164h1v1h-1zM472 164h2v1h-2zM478 164h1v1h-1zM484 164h1v1h-1zM489 164h1v1h-1zM501 164h1v1h-1zM503 164h1v1h-1zM291 165h1v1h-1zM329 165h1v1h-1zM348 165h1v1h-1zM380 165h1v1h-1zM387 165h1v1h-1zM390 165h1v1h-1zM412 165h1v1h-1zM419 165h1v1h-1zM430 165h1v1h-1zM440 165h1v1h-1zM447 165h1v1h-1zM449 165h2v1h-2zM467 165h2v1h-2zM471 165h1v1h-1zM476 165h2v1h-2zM484 165h1v1h-1zM488 165h1v1h-1zM500 165h1v1h-1zM503 165h1v1h-1zM290 166h1v1h-1zM329 166h1v1h-1zM347 166h1v1h-1zM379 166h1v1h-1zM387 166h1v1h-1zM389 166h1v1h-1zM412 166h1v1h-1zM418 166h1v1h-1zM429 166h1v1h-1zM439 166h1v1h-1zM447 166h2v1h-2zM466 166h2v1h-2zM469 166h2v1h-2zM474 166h2v1h-2zM483 166h1v1h-1zM487 166h1v1h-1zM500 166h1v1h-1zM502 166h1v1h-1zM289 167h1v1h-1zM329 167h1v1h-1zM346 167h1v1h-1zM379 167h1v1h-1zM386 167h1v1h-1zM388 167h1v1h-1zM412 167h1v1h-1zM417 167h1v1h-1zM429 167h1v1h-1zM438 167h1v1h-1zM446 167h2v1h-2zM464 167h2v1h-2zM468 167h2v1h-2zM473 167h1v1h-1zM483 167h1v1h-1zM486 167h1v1h-1zM499 167h1v1h-1zM502 167h1v1h-1zM287 168h2v1h-2zM329 168h1v1h-1zM345 168h1v1h-1zM379 168h1v1h-1zM386 168h2v1h-2zM412 168h1v1h-1zM417 168h1v1h-1zM428 168h1v1h-1zM436 168h2v1h-2zM445 168h2v1h-2zM463 168h2v1h-2zM467 168h2v1h-2zM471 168h2v1h-2zM482 168h1v1h-1zM485 168h1v1h-1zM499 168h1v1h-1zM501 168h1v1h-1zM286 169h1v1h-1zM328 169h1v1h-1zM344 169h1v1h-1zM378 169h1v1h-1zM385 169h1v1h-1zM411 169h1v1h-1zM416 169h1v1h-1zM427 169h1v1h-1zM435 169h1v1h-1zM444 169h2v1h-2zM461 169h3v1h-3zM465 169h3v1h-3zM469 169h2v1h-2zM482 169h1v1h-1zM484 169h1v1h-1zM498 169h1v1h-1zM501 169h1v1h-1zM285 170h1v1h-1zM328 170h1v1h-1zM343 170h1v1h-1zM378 170h1v1h-1zM384 170h2v1h-2zM411 170h1v1h-1zM415 170h1v1h-1zM426 170h1v1h-1zM434 170h1v1h-1zM442 170h2v1h-2zM445 170h1v1h-1zM460 170h1v1h-1zM462 170h1v1h-1zM464 170h1v1h-1zM466 170h1v1h-1zM468 170h1v1h-1zM481 170h1v1h-1zM483 170h1v1h-1zM498 170h1v1h-1zM500 170h1v1h-1zM284 171h1v1h-1zM328 171h1v1h-1zM341 171h2v1h-2zM377 171h1v1h-1zM382 171h3v1h-3zM410 171h1v1h-1zM414 171h1v1h-1zM425 171h1v1h-1zM433 171h1v1h-1zM440 171h2v1h-2zM444 171h2v1h-2zM459 171h3v1h-3zM463 171h1v1h-1zM465 171h1v1h-1zM467 171h1v1h-1zM480 171h1v1h-1zM482 171h1v1h-1zM496 171h2v1h-2zM499 171h1v1h-1zM283 172h1v1h-1zM327 172h1v1h-1zM340 172h1v1h-1zM377 172h1v1h-1zM381 172h2v1h-2zM409 172h1v1h-1zM412 172h2v1h-2zM425 172h1v1h-1zM431 172h2v1h-2zM438 172h2v1h-2zM442 172h3v1h-3zM458 172h2v1h-2zM463 172h4v1h-4zM479 172h1v1h-1zM481 172h1v1h-1zM495 172h1v1h-1zM498 172h1v1h-1zM282 173h1v1h-1zM327 173h1v1h-1zM339 173h1v1h-1zM376 173h1v1h-1zM380 173h1v1h-1zM409 173h1v1h-1zM411 173h2v1h-2zM424 173h1v1h-1zM430 173h1v1h-1zM436 173h2v1h-2zM441 173h1v1h-1zM444 173h1v1h-1zM457 173h2v1h-2zM462 173h1v1h-1zM464 173h1v1h-1zM478 173h1v1h-1zM480 173h1v1h-1zM493 173h2v1h-2zM497 173h1v1h-1zM280 174h2v1h-2zM327 174h1v1h-1zM337 174h2v1h-2zM376 174h1v1h-1zM378 174h2v1h-2zM408 174h1v1h-1zM410 174h2v1h-2zM423 174h1v1h-1zM429 174h1v1h-1zM434 174h2v1h-2zM440 174h1v1h-1zM443 174h1v1h-1zM456 174h2v1h-2zM461 174h1v1h-1zM463 174h1v1h-1zM477 174h1v1h-1zM479 174h1v1h-1zM492 174h1v1h-1zM497 174h1v1h-1zM279 175h1v1h-1zM327 175h1v1h-1zM336 175h1v1h-1zM375 175h1v1h-1zM377 175h1v1h-1zM407 175h1v1h-1zM409 175h2v1h-2zM423 175h1v1h-1zM428 175h1v1h-1zM432 175h2v1h-2zM439 175h1v1h-1zM443 175h1v1h-1zM455 175h1v1h-1zM460 175h1v1h-1zM462 175h1v1h-1zM476 175h1v1h-1zM478 175h1v1h-1zM490 175h2v1h-2zM496 175h1v1h-1zM278 176h1v1h-1zM326 176h1v1h-1zM335 176h1v1h-1zM375 176h2v1h-2zM406 176h4v1h-4zM422 176h1v1h-1zM427 176h1v1h-1zM430 176h2v1h-2zM438 176h1v1h-1zM443 176h1v1h-1zM453 176h2v1h-2zM458 176h4v1h-4zM475 176h1v1h-1zM477 176h1v1h-1zM489 176h1v1h-1zM495 176h1v1h-1zM277 177h1v1h-1zM326 177h1v1h-1zM333 177h2v1h-2zM373 177h2v1h-2zM405 177h2v1h-2zM408 177h1v1h-1zM421 177h1v1h-1zM425 177h2v1h-2zM428 177h2v1h-2zM436 177h2v1h-2zM442 177h1v1h-1zM452 177h2v1h-2zM457 177h1v1h-1zM459 177h2v1h-2zM474 177h1v1h-1zM476 177h1v1h-1zM487 177h2v1h-2zM494 177h1v1h-1zM276 178h1v1h-1zM326 178h1v1h-1zM332 178h1v1h-1zM372 178h3v1h-3zM405 178h1v1h-1zM407 178h1v1h-1zM421 178h1v1h-1zM424 178h1v1h-1zM426 178h2v1h-2zM435 178h1v1h-1zM442 178h1v1h-1zM451 178h1v1h-1zM456 178h1v1h-1zM458 178h1v1h-1zM474 178h1v1h-1zM476 178h1v1h-1zM485 178h2v1h-2zM493 178h1v1h-1zM275 179h1v1h-1zM326 179h1v1h-1zM331 179h1v1h-1zM370 179h4v1h-4zM403 179h2v1h-2zM406 179h1v1h-1zM420 179h1v1h-1zM423 179h3v1h-3zM434 179h1v1h-1zM441 179h1v1h-1zM449 179h2v1h-2zM454 179h2v1h-2zM457 179h1v1h-1zM473 179h1v1h-1zM475 179h1v1h-1zM484 179h1v1h-1zM492 179h1v1h-1zM274 180h1v1h-1zM325 180h1v1h-1zM329 180h2v1h-2zM369 180h2v1h-2zM373 180h1v1h-1zM402 180h2v1h-2zM405 180h1v1h-1zM419 180h1v1h-1zM422 180h2v1h-2zM433 180h1v1h-1zM441 180h1v1h-1zM448 180h2v1h-2zM453 180h1v1h-1zM456 180h2v1h-2zM472 180h1v1h-1zM474 180h1v1h-1zM482 180h2v1h-2zM491 180h1v1h-1zM272 181h2v1h-2zM325 181h1v1h-1zM328 181h1v1h-1zM367 181h3v1h-3zM372 181h1v1h-1zM401 181h2v1h-2zM404 181h1v1h-1zM419 181h3v1h-3zM432 181h1v1h-1zM441 181h1v1h-1zM446 181h3v1h-3zM452 181h1v1h-1zM455 181h2v1h-2zM471 181h1v1h-1zM473 181h1v1h-1zM481 181h1v1h-1zM490 181h1v1h-1zM271 182h1v1h-1zM325 182h1v1h-1zM327 182h1v1h-1zM365 182h3v1h-3zM372 182h1v1h-1zM400 182h2v1h-2zM403 182h1v1h-1zM418 182h3v1h-3zM430 182h2v1h-2zM440 182h1v1h-1zM445 182h1v1h-1zM447 182h1v1h-1zM451 182h1v1h-1zM453 182h3v1h-3zM470 182h1v1h-1zM472 182h1v1h-1zM479 182h2v1h-2zM490 182h1v1h-1zM270 183h1v1h-1zM325 183h2v1h-2zM364 183h1v1h-1zM366 183h1v1h-1zM371 183h1v1h-1zM398 183h2v1h-2zM401 183h2v1h-2zM416 183h3v1h-3zM429 183h1v1h-1zM440 183h1v1h-1zM444 183h1v1h-1zM446 183h1v1h-1zM449 183h2v1h-2zM452 183h1v1h-1zM454 183h1v1h-1zM469 183h1v1h-1zM471 183h1v1h-1zM478 183h1v1h-1zM489 183h1v1h-1zM269 184h1v1h-1zM324 184h1v1h-1zM362 184h4v1h-4zM371 184h1v1h-1zM397 184h1v1h-1zM400 184h2v1h-2zM414 184h2v1h-2zM417 184h1v1h-1zM428 184h1v1h-1zM439 184h1v1h-1zM442 184h2v1h-2zM445 184h1v1h-1zM448 184h1v1h-1zM451 184h1v1h-1zM454 184h1v1h-1zM468 184h1v1h-1zM470 184h1v1h-1zM476 184h2v1h-2zM488 184h1v1h-1zM268 185h1v1h-1zM323 185h2v1h-2zM361 185h1v1h-1zM363 185h1v1h-1zM370 185h1v1h-1zM396 185h1v1h-1zM399 185h2v1h-2zM413 185h1v1h-1zM416 185h1v1h-1zM427 185h1v1h-1zM439 185h1v1h-1zM441 185h1v1h-1zM444 185h1v1h-1zM447 185h1v1h-1zM450 185h1v1h-1zM453 185h1v1h-1zM467 185h1v1h-1zM469 185h1v1h-1zM475 185h1v1h-1zM487 185h1v1h-1zM267 186h1v1h-1zM322 186h1v1h-1zM324 186h1v1h-1zM360 186h1v1h-1zM362 186h1v1h-1zM370 186h1v1h-1zM395 186h1v1h-1zM399 186h2v1h-2zM412 186h1v1h-1zM414 186h2v1h-2zM427 186h1v1h-1zM439 186h2v1h-2zM443 186h1v1h-1zM446 186h1v1h-1zM449 186h1v1h-1zM451 186h2v1h-2zM465 186h4v1h-4zM473 186h2v1h-2zM486 186h1v1h-1zM265 187h2v1h-2zM320 187h2v1h-2zM323 187h1v1h-1zM360 187h1v1h-1zM362 187h1v1h-1zM369 187h1v1h-1zM394 187h1v1h-1zM398 187h2v1h-2zM412 187h2v1h-2zM415 187h1v1h-1zM426 187h1v1h-1zM438 187h2v1h-2zM442 187h1v1h-1zM444 187h2v1h-2zM448 187h1v1h-1zM450 187h1v1h-1zM463 187h4v1h-4zM471 187h2v1h-2zM486 187h1v1h-1zM264 188h1v1h-1zM319 188h1v1h-1zM323 188h1v1h-1zM359 188h1v1h-1zM361 188h1v1h-1zM369 188h1v1h-1zM393 188h1v1h-1zM398 188h2v1h-2zM411 188h2v1h-2zM414 188h1v1h-1zM426 188h1v1h-1zM438 188h1v1h-1zM441 188h1v1h-1zM443 188h1v1h-1zM447 188h3v1h-3zM461 188h4v1h-4zM469 188h2v1h-2zM485 188h1v1h-1zM263 189h1v1h-1zM318 189h1v1h-1zM322 189h1v1h-1zM358 189h1v1h-1zM360 189h1v1h-1zM368 189h1v1h-1zM391 189h2v1h-2zM397 189h2v1h-2zM410 189h2v1h-2zM414 189h1v1h-1zM425 189h1v1h-1zM437 189h4v1h-4zM442 189h1v1h-1zM445 189h3v1h-3zM459 189h4v1h-4zM468 189h1v1h-1zM485 189h1v1h-1zM262 190h1v1h-1zM317 190h1v1h-1zM322 190h1v1h-1zM358 190h2v1h-2zM368 190h1v1h-1zM390 190h1v1h-1zM397 190h2v1h-2zM409 190h2v1h-2zM413 190h1v1h-1zM425 190h1v1h-1zM436 190h1v1h-1zM438 190h1v1h-1zM441 190h1v1h-1zM444 190h3v1h-3zM457 190h4v1h-4zM466 190h2v1h-2zM484 190h1v1h-1zM261 191h1v1h-1zM316 191h1v1h-1zM321 191h1v1h-1zM357 191h1v1h-1zM359 191h1v1h-1zM367 191h1v1h-1zM389 191h1v1h-1zM397 191h2v1h-2zM408 191h1v1h-1zM410 191h1v1h-1zM413 191h1v1h-1zM425 191h1v1h-1zM435 191h1v1h-1zM437 191h1v1h-1zM440 191h1v1h-1zM443 191h2v1h-2zM455 191h4v1h-4zM464 191h2v1h-2zM483 191h1v1h-1zM259 192h2v1h-2zM314 192h2v1h-2zM321 192h1v1h-1zM356 192h1v1h-1zM358 192h1v1h-1zM367 192h1v1h-1zM388 192h1v1h-1zM396 192h2v1h-2zM406 192h2v1h-2zM409 192h1v1h-1zM412 192h1v1h-1zM424 192h1v1h-1zM433 192h2v1h-2zM436 192h4v1h-4zM442 192h2v1h-2zM453 192h4v1h-4zM462 192h2v1h-2zM483 192h1v1h-1zM258 193h1v1h-1zM313 193h1v1h-1zM320 193h1v1h-1zM356 193h2v1h-2zM366 193h1v1h-1zM387 193h1v1h-1zM396 193h2v1h-2zM405 193h1v1h-1zM409 193h1v1h-1zM412 193h1v1h-1zM424 193h1v1h-1zM432 193h1v1h-1zM435 193h1v1h-1zM437 193h1v1h-1zM441 193h1v1h-1zM451 193h2v1h-2zM454 193h1v1h-1zM461 193h1v1h-1zM482 193h1v1h-1zM257 194h1v1h-1zM312 194h1v1h-1zM320 194h1v1h-1zM355 194h2v1h-2zM366 194h1v1h-1zM386 194h1v1h-1zM395 194h2v1h-2zM404 194h1v1h-1zM408 194h1v1h-1zM411 194h1v1h-1zM423 194h1v1h-1zM431 194h1v1h-1zM434 194h1v1h-1zM436 194h2v1h-2zM440 194h1v1h-1zM449 194h2v1h-2zM452 194h2v1h-2zM459 194h2v1h-2zM482 194h1v1h-1zM256 195h1v1h-1zM311 195h1v1h-1zM319 195h1v1h-1zM354 195h1v1h-1zM356 195h1v1h-1zM365 195h1v1h-1zM385 195h1v1h-1zM395 195h2v1h-2zM402 195h2v1h-2zM408 195h1v1h-1zM411 195h1v1h-1zM423 195h1v1h-1zM430 195h1v1h-1zM433 195h1v1h-1zM435 195h2v1h-2zM438 195h2v1h-2zM447 195h2v1h-2zM450 195h2v1h-2zM457 195h2v1h-2zM481 195h1v1h-1zM255 196h1v1h-1zM310 196h1v1h-1zM319 196h1v1h-1zM354 196h2v1h-2zM365 196h1v1h-1zM383 196h2v1h-2zM395 196h2v1h-2zM401 196h1v1h-1zM407 196h1v1h-1zM410 196h1v1h-1zM423 196h1v1h-1zM429 196h1v1h-1zM431 196h2v1h-2zM434 196h1v1h-1zM436 196h3v1h-3zM445 196h2v1h-2zM448 196h2v1h-2zM456 196h1v1h-1zM480 196h1v1h-1zM253 197h2v1h-2zM308 197h2v1h-2zM318 197h1v1h-1zM353 197h2v1h-2zM364 197h1v1h-1zM382 197h1v1h-1zM394 197h2v1h-2zM400 197h1v1h-1zM407 197h1v1h-1zM410 197h1v1h-1zM422 197h1v1h-1zM428 197h1v1h-1zM430 197h1v1h-1zM432 197h2v1h-2zM435 197h2v1h-2zM443 197h2v1h-2zM446 197h2v1h-2zM454 197h2v1h-2zM480 197h1v1h-1zM252 198h1v1h-1zM307 198h1v1h-1zM318 198h1v1h-1zM352 198h2v1h-2zM364 198h1v1h-1zM381 198h1v1h-1zM394 198h2v1h-2zM398 198h2v1h-2zM406 198h1v1h-1zM409 198h1v1h-1zM422 198h1v1h-1zM427 198h1v1h-1zM429 198h1v1h-1zM431 198h1v1h-1zM434 198h3v1h-3zM441 198h2v1h-2zM444 198h2v1h-2zM452 198h2v1h-2zM479 198h1v1h-1zM251 199h1v1h-1zM306 199h1v1h-1zM317 199h1v1h-1zM352 199h2v1h-2zM363 199h1v1h-1zM380 199h1v1h-1zM393 199h2v1h-2zM397 199h1v1h-1zM406 199h1v1h-1zM409 199h1v1h-1zM421 199h1v1h-1zM426 199h1v1h-1zM428 199h1v1h-1zM430 199h1v1h-1zM432 199h4v1h-4zM439 199h2v1h-2zM442 199h2v1h-2zM450 199h2v1h-2zM479 199h1v1h-1zM250 200h1v1h-1zM305 200h1v1h-1zM317 200h1v1h-1zM351 200h2v1h-2zM363 200h1v1h-1zM379 200h1v1h-1zM393 200h2v1h-2zM396 200h1v1h-1zM405 200h1v1h-1zM408 200h1v1h-1zM421 200h1v1h-1zM425 200h1v1h-1zM427 200h1v1h-1zM429 200h1v1h-1zM431 200h1v1h-1zM433 200h1v1h-1zM435 200h1v1h-1zM438 200h1v1h-1zM441 200h1v1h-1zM449 200h1v1h-1zM478 200h1v1h-1zM249 201h1v1h-1zM304 201h1v1h-1zM316 201h1v1h-1zM350 201h1v1h-1zM352 201h1v1h-1zM362 201h1v1h-1zM378 201h1v1h-1zM392 201h2v1h-2zM395 201h1v1h-1zM404 201h1v1h-1zM407 201h1v1h-1zM419 201h2v1h-2zM423 201h6v1h-6zM430 201h3v1h-3zM434 201h1v1h-1zM437 201h1v1h-1zM440 201h1v1h-1zM448 201h1v1h-1zM477 201h1v1h-1zM248 202h1v1h-1zM303 202h1v1h-1zM315 202h1v1h-1zM349 202h1v1h-1zM351 202h1v1h-1zM362 202h1v1h-1zM378 202h1v1h-1zM391 202h2v1h-2zM394 202h1v1h-1zM403 202h1v1h-1zM405 202h2v1h-2zM417 202h2v1h-2zM422 202h3v1h-3zM426 202h1v1h-1zM429 202h2v1h-2zM433 202h1v1h-1zM437 202h1v1h-1zM439 202h1v1h-1zM446 202h2v1h-2zM476 202h1v1h-1zM248 203h1v1h-1zM303 203h1v1h-1zM314 203h1v1h-1zM348 203h1v1h-1zM351 203h1v1h-1zM361 203h1v1h-1zM377 203h1v1h-1zM390 203h2v1h-2zM393 203h1v1h-1zM402 203h1v1h-1zM404 203h1v1h-1zM416 203h1v1h-1zM420 203h3v1h-3zM424 203h2v1h-2zM428 203h2v1h-2zM432 203h1v1h-1zM436 203h1v1h-1zM438 203h1v1h-1zM445 203h1v1h-1zM475 203h1v1h-1zM247 204h1v1h-1zM302 204h1v1h-1zM314 204h1v1h-1zM347 204h1v1h-1zM350 204h1v1h-1zM360 204h1v1h-1zM376 204h1v1h-1zM389 204h2v1h-2zM392 204h1v1h-1zM401 204h1v1h-1zM403 204h1v1h-1zM414 204h2v1h-2zM419 204h2v1h-2zM423 204h1v1h-1zM426 204h2v1h-2zM430 204h2v1h-2zM435 204h3v1h-3zM444 204h1v1h-1zM474 204h1v1h-1zM246 205h1v1h-1zM301 205h1v1h-1zM313 205h1v1h-1zM346 205h1v1h-1zM350 205h1v1h-1zM359 205h1v1h-1zM375 205h1v1h-1zM388 205h2v1h-2zM391 205h1v1h-1zM400 205h1v1h-1zM402 205h1v1h-1zM412 205h2v1h-2zM417 205h2v1h-2zM421 205h2v1h-2zM425 205h2v1h-2zM429 205h1v1h-1zM434 205h2v1h-2zM443 205h1v1h-1zM473 205h1v1h-1zM245 206h1v1h-1zM300 206h1v1h-1zM312 206h1v1h-1zM345 206h1v1h-1zM349 206h1v1h-1zM359 206h1v1h-1zM375 206h1v1h-1zM387 206h2v1h-2zM390 206h1v1h-1zM399 206h3v1h-3zM411 206h1v1h-1zM415 206h2v1h-2zM420 206h1v1h-1zM424 206h1v1h-1zM428 206h1v1h-1zM434 206h1v1h-1zM441 206h2v1h-2zM472 206h1v1h-1zM244 207h1v1h-1zM299 207h1v1h-1zM311 207h1v1h-1zM344 207h1v1h-1zM349 207h1v1h-1zM358 207h1v1h-1zM374 207h1v1h-1zM386 207h2v1h-2zM389 207h1v1h-1zM398 207h2v1h-2zM409 207h2v1h-2zM413 207h3v1h-3zM418 207h2v1h-2zM422 207h2v1h-2zM427 207h1v1h-1zM433 207h1v1h-1zM440 207h1v1h-1zM471 207h1v1h-1zM244 208h1v1h-1zM299 208h1v1h-1zM310 208h1v1h-1zM343 208h1v1h-1zM348 208h1v1h-1zM357 208h1v1h-1zM373 208h1v1h-1zM385 208h2v1h-2zM388 208h1v1h-1zM398 208h1v1h-1zM407 208h2v1h-2zM412 208h2v1h-2zM416 208h2v1h-2zM420 208h3v1h-3zM426 208h1v1h-1zM432 208h1v1h-1zM439 208h1v1h-1zM470 208h1v1h-1zM243 209h1v1h-1zM298 209h1v1h-1zM309 209h1v1h-1zM342 209h1v1h-1zM348 209h1v1h-1zM356 209h1v1h-1zM372 209h1v1h-1zM384 209h2v1h-2zM387 209h1v1h-1zM396 209h2v1h-2zM406 209h1v1h-1zM410 209h2v1h-2zM415 209h1v1h-1zM419 209h1v1h-1zM421 209h1v1h-1zM425 209h1v1h-1zM431 209h1v1h-1zM437 209h2v1h-2zM469 209h1v1h-1zM242 210h1v1h-1zM297 210h1v1h-1zM308 210h1v1h-1zM341 210h1v1h-1zM347 210h1v1h-1zM356 210h1v1h-1zM372 210h1v1h-1zM383 210h2v1h-2zM386 210h1v1h-1zM395 210h2v1h-2zM404 210h2v1h-2zM408 210h3v1h-3zM413 210h2v1h-2zM417 210h2v1h-2zM420 210h1v1h-1zM424 210h1v1h-1zM430 210h2v1h-2zM436 210h1v1h-1zM468 210h1v1h-1zM241 211h1v1h-1zM296 211h1v1h-1zM307 211h1v1h-1zM340 211h1v1h-1zM347 211h1v1h-1zM355 211h1v1h-1zM371 211h1v1h-1zM381 211h3v1h-3zM385 211h1v1h-1zM394 211h2v1h-2zM402 211h2v1h-2zM406 211h3v1h-3zM412 211h1v1h-1zM416 211h1v1h-1zM418 211h2v1h-2zM422 211h2v1h-2zM428 211h3v1h-3zM435 211h1v1h-1zM467 211h1v1h-1zM240 212h1v1h-1zM295 212h1v1h-1zM307 212h1v1h-1zM339 212h1v1h-1zM346 212h1v1h-1zM354 212h1v1h-1zM370 212h1v1h-1zM380 212h1v1h-1zM383 212h2v1h-2zM393 212h2v1h-2zM401 212h1v1h-1zM404 212h4v1h-4zM410 212h2v1h-2zM414 212h2v1h-2zM417 212h1v1h-1zM421 212h1v1h-1zM427 212h1v1h-1zM429 212h1v1h-1zM434 212h1v1h-1zM466 212h1v1h-1zM240 213h1v1h-1zM295 213h1v1h-1zM306 213h1v1h-1zM338 213h1v1h-1zM346 213h1v1h-1zM353 213h1v1h-1zM369 213h1v1h-1zM379 213h1v1h-1zM382 213h2v1h-2zM391 213h3v1h-3zM399 213h2v1h-2zM402 213h2v1h-2zM405 213h1v1h-1zM409 213h1v1h-1zM413 213h1v1h-1zM416 213h1v1h-1zM420 213h1v1h-1zM426 213h1v1h-1zM428 213h1v1h-1zM432 213h2v1h-2zM465 213h1v1h-1zM239 214h1v1h-1zM294 214h1v1h-1zM305 214h1v1h-1zM337 214h1v1h-1zM345 214h1v1h-1zM353 214h1v1h-1zM369 214h1v1h-1zM378 214h1v1h-1zM381 214h2v1h-2zM390 214h1v1h-1zM392 214h1v1h-1zM397 214h2v1h-2zM400 214h2v1h-2zM403 214h2v1h-2zM407 214h2v1h-2zM411 214h2v1h-2zM415 214h1v1h-1zM419 214h1v1h-1zM425 214h1v1h-1zM428 214h1v1h-1zM431 214h1v1h-1zM464 214h1v1h-1zM238 215h1v1h-1zM293 215h1v1h-1zM304 215h1v1h-1zM336 215h1v1h-1zM345 215h1v1h-1zM352 215h1v1h-1zM368 215h1v1h-1zM377 215h1v1h-1zM380 215h2v1h-2zM389 215h1v1h-1zM391 215h1v1h-1zM396 215h1v1h-1zM399 215h1v1h-1zM402 215h1v1h-1zM406 215h1v1h-1zM410 215h1v1h-1zM414 215h1v1h-1zM418 215h1v1h-1zM424 215h1v1h-1zM427 215h1v1h-1zM430 215h1v1h-1zM463 215h1v1h-1zM237 216h1v1h-1zM293 216h1v1h-1zM303 216h1v1h-1zM335 216h1v1h-1zM344 216h1v1h-1zM351 216h1v1h-1zM367 216h1v1h-1zM375 216h2v1h-2zM379 216h2v1h-2zM388 216h1v1h-1zM390 216h1v1h-1zM394 216h2v1h-2zM398 216h1v1h-1zM401 216h1v1h-1zM404 216h2v1h-2zM409 216h1v1h-1zM413 216h1v1h-1zM416 216h2v1h-2zM422 216h2v1h-2zM425 216h2v1h-2zM428 216h2v1h-2zM462 216h1v1h-1zM236 217h1v1h-1zM292 217h1v1h-1zM302 217h1v1h-1zM333 217h2v1h-2zM343 217h1v1h-1zM350 217h1v1h-1zM367 217h1v1h-1zM374 217h1v1h-1zM378 217h2v1h-2zM386 217h2v1h-2zM389 217h1v1h-1zM392 217h2v1h-2zM397 217h1v1h-1zM400 217h1v1h-1zM403 217h1v1h-1zM408 217h1v1h-1zM412 217h1v1h-1zM415 217h1v1h-1zM421 217h1v1h-1zM424 217h1v1h-1zM427 217h1v1h-1zM461 217h1v1h-1zM235 218h1v1h-1zM292 218h1v1h-1zM301 218h1v1h-1zM332 218h1v1h-1zM342 218h1v1h-1zM349 218h1v1h-1zM366 218h1v1h-1zM372 218h2v1h-2zM377 218h1v1h-1zM385 218h1v1h-1zM389 218h1v1h-1zM391 218h1v1h-1zM396 218h1v1h-1zM400 218h1v1h-1zM402 218h1v1h-1zM407 218h1v1h-1zM411 218h1v1h-1zM413 218h2v1h-2zM419 218h2v1h-2zM422 218h2v1h-2zM426 218h1v1h-1zM460 218h1v1h-1zM233 219h2v1h-2zM291 219h1v1h-1zM300 219h1v1h-1zM331 219h1v1h-1zM342 219h1v1h-1zM349 219h1v1h-1zM366 219h1v1h-1zM371 219h1v1h-1zM376 219h1v1h-1zM384 219h1v1h-1zM388 219h3v1h-3zM394 219h2v1h-2zM399 219h3v1h-3zM405 219h2v1h-2zM410 219h1v1h-1zM412 219h1v1h-1zM418 219h1v1h-1zM421 219h1v1h-1zM424 219h2v1h-2zM460 219h1v1h-1zM232 220h1v1h-1zM291 220h1v1h-1zM299 220h1v1h-1zM330 220h1v1h-1zM341 220h1v1h-1zM348 220h1v1h-1zM365 220h1v1h-1zM369 220h2v1h-2zM375 220h1v1h-1zM383 220h1v1h-1zM387 220h2v1h-2zM393 220h1v1h-1zM398 220h2v1h-2zM404 220h1v1h-1zM409 220h3v1h-3zM416 220h2v1h-2zM419 220h2v1h-2zM423 220h1v1h-1zM459 220h1v1h-1zM231 221h1v1h-1zM290 221h1v1h-1zM298 221h1v1h-1zM328 221h2v1h-2zM340 221h1v1h-1zM347 221h1v1h-1zM365 221h1v1h-1zM368 221h1v1h-1zM374 221h1v1h-1zM381 221h2v1h-2zM386 221h2v1h-2zM392 221h1v1h-1zM397 221h2v1h-2zM403 221h1v1h-1zM408 221h2v1h-2zM415 221h1v1h-1zM418 221h1v1h-1zM422 221h1v1h-1zM458 221h1v1h-1zM230 222h1v1h-1zM290 222h1v1h-1zM296 222h2v1h-2zM327 222h1v1h-1zM339 222h1v1h-1zM346 222h1v1h-1zM364 222h1v1h-1zM366 222h2v1h-2zM372 222h2v1h-2zM380 222h1v1h-1zM384 222h2v1h-2zM391 222h1v1h-1zM396 222h1v1h-1zM402 222h1v1h-1zM407 222h2v1h-2zM413 222h2v1h-2zM416 222h2v1h-2zM420 222h2v1h-2zM457 222h1v1h-1zM229 223h1v1h-1zM289 223h1v1h-1zM295 223h1v1h-1zM326 223h1v1h-1zM338 223h1v1h-1zM345 223h1v1h-1zM364 223h2v1h-2zM371 223h1v1h-1zM373 223h1v1h-1zM379 223h1v1h-1zM383 223h1v1h-1zM385 223h1v1h-1zM390 223h1v1h-1zM395 223h2v1h-2zM401 223h1v1h-1zM406 223h1v1h-1zM412 223h1v1h-1zM415 223h1v1h-1zM419 223h1v1h-1zM456 223h1v1h-1zM228 224h1v1h-1zM289 224h1v1h-1zM294 224h1v1h-1zM324 224h2v1h-2zM337 224h1v1h-1zM344 224h1v1h-1zM363 224h1v1h-1zM370 224h1v1h-1zM372 224h1v1h-1zM377 224h2v1h-2zM381 224h2v1h-2zM384 224h1v1h-1zM389 224h1v1h-1zM393 224h3v1h-3zM400 224h1v1h-1zM405 224h1v1h-1zM411 224h1v1h-1zM414 224h1v1h-1zM418 224h1v1h-1zM455 224h1v1h-1zM227 225h1v1h-1zM288 225h1v1h-1zM293 225h1v1h-1zM323 225h1v1h-1zM336 225h1v1h-1zM343 225h1v1h-1zM361 225h3v1h-3zM369 225h1v1h-1zM371 225h1v1h-1zM376 225h1v1h-1zM380 225h1v1h-1zM383 225h1v1h-1zM388 225h1v1h-1zM392 225h1v1h-1zM394 225h1v1h-1zM399 225h1v1h-1zM403 225h2v1h-2zM409 225h2v1h-2zM412 225h2v1h-2zM416 225h2v1h-2zM454 225h1v1h-1zM225 226h2v1h-2zM288 226h1v1h-1zM292 226h1v1h-1zM322 226h1v1h-1zM335 226h1v1h-1zM342 226h1v1h-1zM360 226h1v1h-1zM362 226h1v1h-1zM368 226h1v1h-1zM370 226h1v1h-1zM375 226h1v1h-1zM378 226h2v1h-2zM382 226h1v1h-1zM386 226h2v1h-2zM390 226h2v1h-2zM393 226h1v1h-1zM397 226h2v1h-2zM402 226h2v1h-2zM408 226h1v1h-1zM411 226h1v1h-1zM415 226h1v1h-1zM453 226h1v1h-1zM224 227h1v1h-1zM287 227h1v1h-1zM291 227h1v1h-1zM321 227h1v1h-1zM335 227h1v1h-1zM342 227h1v1h-1zM358 227h2v1h-2zM362 227h1v1h-1zM366 227h2v1h-2zM369 227h1v1h-1zM374 227h1v1h-1zM376 227h2v1h-2zM381 227h1v1h-1zM385 227h1v1h-1zM389 227h1v1h-1zM392 227h1v1h-1zM396 227h1v1h-1zM400 227h3v1h-3zM406 227h2v1h-2zM409 227h2v1h-2zM414 227h1v1h-1zM453 227h1v1h-1zM223 228h1v1h-1zM287 228h1v1h-1zM290 228h1v1h-1zM319 228h2v1h-2zM334 228h1v1h-1zM341 228h1v1h-1zM357 228h1v1h-1zM361 228h1v1h-1zM365 228h1v1h-1zM368 228h1v1h-1zM372 228h2v1h-2zM375 228h1v1h-1zM381 228h1v1h-1zM384 228h1v1h-1zM388 228h1v1h-1zM392 228h1v1h-1zM395 228h1v1h-1zM399 228h1v1h-1zM401 228h1v1h-1zM405 228h1v1h-1zM408 228h1v1h-1zM412 228h2v1h-2zM452 228h1v1h-1zM222 229h1v1h-1zM286 229h1v1h-1zM289 229h1v1h-1zM318 229h1v1h-1zM333 229h1v1h-1zM340 229h1v1h-1zM355 229h2v1h-2zM361 229h1v1h-1zM364 229h1v1h-1zM367 229h1v1h-1zM371 229h1v1h-1zM373 229h2v1h-2zM380 229h1v1h-1zM383 229h1v1h-1zM386 229h2v1h-2zM391 229h1v1h-1zM394 229h1v1h-1zM397 229h2v1h-2zM400 229h1v1h-1zM403 229h2v1h-2zM406 229h2v1h-2zM411 229h1v1h-1zM451 229h1v1h-1zM221 230h1v1h-1zM286 230h1v1h-1zM288 230h1v1h-1zM317 230h1v1h-1zM332 230h1v1h-1zM339 230h1v1h-1zM354 230h1v1h-1zM360 230h1v1h-1zM363 230h1v1h-1zM366 230h1v1h-1zM370 230h1v1h-1zM372 230h1v1h-1zM379 230h1v1h-1zM382 230h1v1h-1zM385 230h1v1h-1zM390 230h1v1h-1zM393 230h1v1h-1zM396 230h1v1h-1zM399 230h1v1h-1zM402 230h1v1h-1zM405 230h1v1h-1zM410 230h1v1h-1zM450 230h1v1h-1zM220 231h1v1h-1zM285 231h1v1h-1zM287 231h1v1h-1zM315 231h2v1h-2zM332 231h1v1h-1zM338 231h1v1h-1zM353 231h1v1h-1zM359 231h1v1h-1zM361 231h2v1h-2zM365 231h1v1h-1zM369 231h1v1h-1zM371 231h1v1h-1zM378 231h1v1h-1zM381 231h1v1h-1zM383 231h2v1h-2zM388 231h2v1h-2zM392 231h1v1h-1zM394 231h2v1h-2zM398 231h1v1h-1zM401 231h1v1h-1zM403 231h2v1h-2zM410 231h1v1h-1zM448 231h2v1h-2zM219 232h1v1h-1zM284 232h1v1h-1zM286 232h1v1h-1zM313 232h2v1h-2zM331 232h1v1h-1zM338 232h1v1h-1zM352 232h1v1h-1zM358 232h1v1h-1zM360 232h1v1h-1zM364 232h1v1h-1zM368 232h3v1h-3zM376 232h2v1h-2zM380 232h1v1h-1zM382 232h1v1h-1zM387 232h1v1h-1zM391 232h1v1h-1zM393 232h1v1h-1zM396 232h2v1h-2zM400 232h1v1h-1zM402 232h1v1h-1zM409 232h1v1h-1zM447 232h1v1h-1zM218 233h1v1h-1zM283 233h1v1h-1zM286 233h1v1h-1zM311 233h2v1h-2zM331 233h1v1h-1zM337 233h1v1h-1zM351 233h1v1h-1zM357 233h3v1h-3zM363 233h1v1h-1zM367 233h2v1h-2zM375 233h1v1h-1zM379 233h1v1h-1zM381 233h1v1h-1zM386 233h1v1h-1zM390 233h3v1h-3zM395 233h1v1h-1zM399 233h1v1h-1zM401 233h1v1h-1zM409 233h1v1h-1zM445 233h2v1h-2zM217 234h1v1h-1zM283 234h1v1h-1zM285 234h1v1h-1zM309 234h2v1h-2zM330 234h1v1h-1zM336 234h1v1h-1zM350 234h1v1h-1zM356 234h2v1h-2zM362 234h1v1h-1zM366 234h2v1h-2zM374 234h1v1h-1zM378 234h3v1h-3zM384 234h2v1h-2zM388 234h3v1h-3zM394 234h1v1h-1zM398 234h3v1h-3zM408 234h1v1h-1zM444 234h1v1h-1zM216 235h1v1h-1zM282 235h1v1h-1zM284 235h1v1h-1zM307 235h2v1h-2zM330 235h1v1h-1zM336 235h1v1h-1zM349 235h1v1h-1zM355 235h2v1h-2zM361 235h1v1h-1zM365 235h2v1h-2zM373 235h1v1h-1zM377 235h2v1h-2zM383 235h1v1h-1zM387 235h3v1h-3zM393 235h1v1h-1zM397 235h2v1h-2zM408 235h1v1h-1zM442 235h2v1h-2zM215 236h1v1h-1zM281 236h1v1h-1zM283 236h1v1h-1zM305 236h2v1h-2zM329 236h1v1h-1zM335 236h1v1h-1zM348 236h1v1h-1zM354 236h1v1h-1zM360 236h1v1h-1zM364 236h2v1h-2zM372 236h1v1h-1zM376 236h2v1h-2zM382 236h1v1h-1zM386 236h2v1h-2zM392 236h1v1h-1zM396 236h2v1h-2zM408 236h1v1h-1zM441 236h1v1h-1zM213 237h2v1h-2zM280 237h1v1h-1zM282 237h1v1h-1zM303 237h2v1h-2zM329 237h1v1h-1zM334 237h1v1h-1zM346 237h2v1h-2zM352 237h2v1h-2zM359 237h1v1h-1zM363 237h2v1h-2zM370 237h2v1h-2zM375 237h1v1h-1zM380 237h2v1h-2zM385 237h2v1h-2zM390 237h2v1h-2zM395 237h1v1h-1zM407 237h1v1h-1zM439 237h2v1h-2zM212 238h1v1h-1zM279 238h1v1h-1zM282 238h1v1h-1zM301 238h2v1h-2zM328 238h1v1h-1zM334 238h1v1h-1zM345 238h1v1h-1zM351 238h2v1h-2zM359 238h1v1h-1zM362 238h2v1h-2zM369 238h1v1h-1zM374 238h1v1h-1zM379 238h1v1h-1zM383 238h2v1h-2zM389 238h1v1h-1zM394 238h2v1h-2zM407 238h1v1h-1zM437 238h2v1h-2zM211 239h1v1h-1zM278 239h1v1h-1zM281 239h1v1h-1zM299 239h2v1h-2zM328 239h1v1h-1zM333 239h1v1h-1zM344 239h1v1h-1zM350 239h2v1h-2zM358 239h1v1h-1zM361 239h2v1h-2zM368 239h1v1h-1zM372 239h2v1h-2zM378 239h1v1h-1zM382 239h2v1h-2zM388 239h1v1h-1zM392 239h3v1h-3zM406 239h1v1h-1zM436 239h1v1h-1zM210 240h1v1h-1zM277 240h1v1h-1zM280 240h1v1h-1zM297 240h2v1h-2zM327 240h1v1h-1zM332 240h1v1h-1zM343 240h1v1h-1zM348 240h3v1h-3zM357 240h1v1h-1zM360 240h2v1h-2zM367 240h1v1h-1zM371 240h2v1h-2zM376 240h2v1h-2zM380 240h3v1h-3zM387 240h1v1h-1zM391 240h1v1h-1zM393 240h1v1h-1zM406 240h1v1h-1zM434 240h2v1h-2zM209 241h1v1h-1zM276 241h1v1h-1zM279 241h1v1h-1zM295 241h2v1h-2zM327 241h1v1h-1zM332 241h1v1h-1zM342 241h1v1h-1zM347 241h1v1h-1zM349 241h1v1h-1zM356 241h1v1h-1zM359 241h2v1h-2zM366 241h1v1h-1zM369 241h3v1h-3zM375 241h1v1h-1zM379 241h3v1h-3zM386 241h1v1h-1zM389 241h2v1h-2zM392 241h1v1h-1zM406 241h1v1h-1zM433 241h1v1h-1zM208 242h1v1h-1zM276 242h1v1h-1zM278 242h1v1h-1zM293 242h2v1h-2zM326 242h1v1h-1zM331 242h1v1h-1zM341 242h1v1h-1zM345 242h2v1h-2zM348 242h1v1h-1zM355 242h1v1h-1zM357 242h3v1h-3zM364 242h2v1h-2zM368 242h1v1h-1zM370 242h1v1h-1zM374 242h1v1h-1zM377 242h3v1h-3zM384 242h2v1h-2zM388 242h1v1h-1zM391 242h1v1h-1zM405 242h1v1h-1zM431 242h2v1h-2zM207 243h1v1h-1zM275 243h1v1h-1zM278 243h1v1h-1zM291 243h2v1h-2zM326 243h1v1h-1zM330 243h1v1h-1zM340 243h1v1h-1zM344 243h1v1h-1zM347 243h1v1h-1zM354 243h1v1h-1zM356 243h1v1h-1zM358 243h1v1h-1zM363 243h1v1h-1zM367 243h1v1h-1zM369 243h1v1h-1zM372 243h2v1h-2zM376 243h1v1h-1zM378 243h1v1h-1zM383 243h1v1h-1zM387 243h1v1h-1zM390 243h1v1h-1zM405 243h1v1h-1zM430 243h1v1h-1zM206 244h1v1h-1zM274 244h1v1h-1zM277 244h1v1h-1zM289 244h2v1h-2zM325 244h1v1h-1zM330 244h1v1h-1zM339 244h1v1h-1zM342 244h2v1h-2zM346 244h1v1h-1zM353 244h1v1h-1zM355 244h1v1h-1zM357 244h1v1h-1zM362 244h1v1h-1zM365 244h2v1h-2zM368 244h1v1h-1zM371 244h1v1h-1zM374 244h2v1h-2zM377 244h1v1h-1zM382 244h1v1h-1zM385 244h2v1h-2zM389 244h1v1h-1zM404 244h1v1h-1zM428 244h2v1h-2zM205 245h1v1h-1zM273 245h1v1h-1zM276 245h1v1h-1zM288 245h1v1h-1zM325 245h1v1h-1zM329 245h1v1h-1zM338 245h1v1h-1zM341 245h1v1h-1zM345 245h1v1h-1zM352 245h1v1h-1zM354 245h1v1h-1zM356 245h1v1h-1zM361 245h1v1h-1zM364 245h1v1h-1zM367 245h1v1h-1zM370 245h1v1h-1zM373 245h1v1h-1zM376 245h1v1h-1zM381 245h1v1h-1zM384 245h1v1h-1zM388 245h1v1h-1zM403 245h2v1h-2zM427 245h1v1h-1zM204 246h1v1h-1zM272 246h1v1h-1zM275 246h1v1h-1zM287 246h1v1h-1zM324 246h1v1h-1zM328 246h1v1h-1zM337 246h1v1h-1zM339 246h2v1h-2zM344 246h1v1h-1zM350 246h2v1h-2zM353 246h1v1h-1zM356 246h1v1h-1zM360 246h1v1h-1zM363 246h1v1h-1zM366 246h1v1h-1zM369 246h1v1h-1zM372 246h1v1h-1zM375 246h1v1h-1zM379 246h2v1h-2zM382 246h2v1h-2zM386 246h2v1h-2zM401 246h2v1h-2zM425 246h2v1h-2zM204 247h1v1h-1zM271 247h1v1h-1zM275 247h1v1h-1zM285 247h2v1h-2zM323 247h1v1h-1zM327 247h1v1h-1zM336 247h1v1h-1zM338 247h1v1h-1zM344 247h1v1h-1zM348 247h2v1h-2zM353 247h1v1h-1zM355 247h1v1h-1zM359 247h1v1h-1zM362 247h1v1h-1zM365 247h1v1h-1zM368 247h1v1h-1zM370 247h2v1h-2zM373 247h2v1h-2zM377 247h2v1h-2zM380 247h2v1h-2zM384 247h2v1h-2zM399 247h2v1h-2zM423 247h2v1h-2zM203 248h1v1h-1zM270 248h1v1h-1zM274 248h1v1h-1zM284 248h1v1h-1zM322 248h1v1h-1zM327 248h1v1h-1zM335 248h1v1h-1zM337 248h1v1h-1zM343 248h1v1h-1zM346 248h2v1h-2zM352 248h1v1h-1zM355 248h1v1h-1zM358 248h1v1h-1zM362 248h1v1h-1zM364 248h1v1h-1zM367 248h1v1h-1zM369 248h1v1h-1zM372 248h1v1h-1zM376 248h1v1h-1zM379 248h1v1h-1zM382 248h2v1h-2zM397 248h2v1h-2zM421 248h2v1h-2zM202 249h1v1h-1zM270 249h1v1h-1zM274 249h1v1h-1zM283 249h1v1h-1zM321 249h1v1h-1zM326 249h1v1h-1zM334 249h3v1h-3zM342 249h1v1h-1zM344 249h2v1h-2zM351 249h1v1h-1zM354 249h1v1h-1zM357 249h1v1h-1zM361 249h1v1h-1zM364 249h3v1h-3zM368 249h1v1h-1zM371 249h1v1h-1zM374 249h2v1h-2zM377 249h2v1h-2zM381 249h1v1h-1zM395 249h2v1h-2zM419 249h2v1h-2zM201 250h1v1h-1zM269 250h1v1h-1zM273 250h1v1h-1zM282 250h1v1h-1zM320 250h1v1h-1zM325 250h1v1h-1zM333 250h2v1h-2zM341 250h1v1h-1zM343 250h1v1h-1zM350 250h1v1h-1zM354 250h1v1h-1zM356 250h1v1h-1zM360 250h1v1h-1zM363 250h2v1h-2zM367 250h1v1h-1zM370 250h1v1h-1zM372 250h2v1h-2zM376 250h1v1h-1zM379 250h2v1h-2zM393 250h2v1h-2zM417 250h2v1h-2zM201 251h1v1h-1zM268 251h1v1h-1zM273 251h1v1h-1zM280 251h2v1h-2zM319 251h1v1h-1zM324 251h1v1h-1zM332 251h2v1h-2zM341 251h2v1h-2zM350 251h1v1h-1zM354 251h2v1h-2zM359 251h1v1h-1zM362 251h2v1h-2zM366 251h1v1h-1zM369 251h1v1h-1zM371 251h1v1h-1zM374 251h2v1h-2zM377 251h2v1h-2zM391 251h2v1h-2zM415 251h2v1h-2zM200 252h1v1h-1zM267 252h1v1h-1zM272 252h1v1h-1zM279 252h1v1h-1zM317 252h2v1h-2zM323 252h1v1h-1zM330 252h2v1h-2zM339 252h2v1h-2zM349 252h1v1h-1zM353 252h2v1h-2zM358 252h1v1h-1zM361 252h2v1h-2zM364 252h2v1h-2zM367 252h4v1h-4zM372 252h2v1h-2zM375 252h2v1h-2zM388 252h3v1h-3zM413 252h2v1h-2zM199 253h1v1h-1zM266 253h1v1h-1zM272 253h1v1h-1zM278 253h1v1h-1zM316 253h1v1h-1zM323 253h1v1h-1zM329 253h2v1h-2zM337 253h3v1h-3zM348 253h1v1h-1zM353 253h2v1h-2zM358 253h1v1h-1zM360 253h2v1h-2zM363 253h1v1h-1zM366 253h3v1h-3zM371 253h1v1h-1zM374 253h1v1h-1zM386 253h2v1h-2zM411 253h2v1h-2zM198 254h1v1h-1zM265 254h1v1h-1zM271 254h1v1h-1zM276 254h2v1h-2zM315 254h1v1h-1zM322 254h1v1h-1zM328 254h2v1h-2zM335 254h2v1h-2zM338 254h1v1h-1zM347 254h1v1h-1zM352 254h2v1h-2zM357 254h1v1h-1zM359 254h2v1h-2zM362 254h1v1h-1zM365 254h2v1h-2zM369 254h2v1h-2zM372 254h2v1h-2zM384 254h2v1h-2zM409 254h2v1h-2zM198 255h1v1h-1zM264 255h1v1h-1zM271 255h1v1h-1zM275 255h1v1h-1zM314 255h1v1h-1zM321 255h1v1h-1zM327 255h1v1h-1zM334 255h1v1h-1zM338 255h1v1h-1zM347 255h1v1h-1zM352 255h1v1h-1zM356 255h1v1h-1zM358 255h2v1h-2zM361 255h1v1h-1zM364 255h2v1h-2zM368 255h1v1h-1zM370 255h2v1h-2zM382 255h2v1h-2zM407 255h2v1h-2zM197 256h1v1h-1zM263 256h1v1h-1zM270 256h1v1h-1zM274 256h1v1h-1zM313 256h1v1h-1zM320 256h1v1h-1zM325 256h2v1h-2zM332 256h2v1h-2zM337 256h1v1h-1zM346 256h1v1h-1zM351 256h2v1h-2zM355 256h1v1h-1zM357 256h2v1h-2zM360 256h1v1h-1zM362 256h2v1h-2zM366 256h2v1h-2zM369 256h1v1h-1zM380 256h2v1h-2zM405 256h2v1h-2zM196 257h1v1h-1zM263 257h1v1h-1zM270 257h1v1h-1zM273 257h1v1h-1zM312 257h1v1h-1zM319 257h1v1h-1zM324 257h2v1h-2zM330 257h2v1h-2zM336 257h1v1h-1zM345 257h1v1h-1zM350 257h2v1h-2zM354 257h1v1h-1zM356 257h4v1h-4zM361 257h2v1h-2zM364 257h2v1h-2zM367 257h2v1h-2zM378 257h2v1h-2zM403 257h2v1h-2zM195 258h1v1h-1zM262 258h1v1h-1zM269 258h1v1h-1zM271 258h2v1h-2zM311 258h1v1h-1zM319 258h1v1h-1zM323 258h2v1h-2zM328 258h2v1h-2zM335 258h1v1h-1zM344 258h1v1h-1zM349 258h1v1h-1zM351 258h1v1h-1zM354 258h4v1h-4zM359 258h2v1h-2zM363 258h1v1h-1zM365 258h2v1h-2zM376 258h2v1h-2zM401 258h2v1h-2zM195 259h1v1h-1zM261 259h1v1h-1zM269 259h2v1h-2zM310 259h1v1h-1zM318 259h1v1h-1zM321 259h3v1h-3zM326 259h2v1h-2zM335 259h1v1h-1zM344 259h1v1h-1zM348 259h1v1h-1zM350 259h1v1h-1zM353 259h7v1h-7zM361 259h4v1h-4zM374 259h2v1h-2zM399 259h2v1h-2zM194 260h1v1h-1zM260 260h1v1h-1zM268 260h2v1h-2zM309 260h1v1h-1zM317 260h1v1h-1zM320 260h1v1h-1zM322 260h1v1h-1zM325 260h1v1h-1zM334 260h1v1h-1zM343 260h1v1h-1zM346 260h2v1h-2zM350 260h1v1h-1zM352 260h5v1h-5zM358 260h1v1h-1zM360 260h1v1h-1zM362 260h1v1h-1zM372 260h2v1h-2zM398 260h1v1h-1zM193 261h1v1h-1zM259 261h1v1h-1zM267 261h2v1h-2zM307 261h2v1h-2zM315 261h2v1h-2zM318 261h4v1h-4zM323 261h2v1h-2zM332 261h2v1h-2zM342 261h1v1h-1zM344 261h2v1h-2zM348 261h14v1h-14zM370 261h2v1h-2zM396 261h2v1h-2zM192 262h1v1h-1zM258 262h1v1h-1zM266 262h2v1h-2zM306 262h1v1h-1zM313 262h2v1h-2zM316 262h2v1h-2zM319 262h1v1h-1zM321 262h2v1h-2zM330 262h2v1h-2zM340 262h4v1h-4zM346 262h2v1h-2zM349 262h7v1h-7zM357 262h3v1h-3zM368 262h2v1h-2zM394 262h2v1h-2zM192 263h1v1h-1zM257 263h1v1h-1zM265 263h2v1h-2zM304 263h2v1h-2zM311 263h2v1h-2zM315 263h1v1h-1zM318 263h3v1h-3zM328 263h2v1h-2zM339 263h3v1h-3zM345 263h1v1h-1zM347 263h5v1h-5zM353 263h1v1h-1zM356 263h2v1h-2zM366 263h2v1h-2zM392 263h2v1h-2zM191 264h1v1h-1zM256 264h1v1h-1zM264 264h2v1h-2zM303 264h1v1h-1zM309 264h2v1h-2zM313 264h2v1h-2zM316 264h3v1h-3zM327 264h1v1h-1zM338 264h2v1h-2zM343 264h2v1h-2zM346 264h7v1h-7zM354 264h3v1h-3zM364 264h2v1h-2zM390 264h2v1h-2zM190 265h1v1h-1zM255 265h1v1h-1zM263 265h2v1h-2zM301 265h2v1h-2zM307 265h2v1h-2zM311 265h2v1h-2zM315 265h2v1h-2zM325 265h2v1h-2zM336 265h2v1h-2zM342 265h1v1h-1zM344 265h5v1h-5zM350 265h1v1h-1zM353 265h2v1h-2zM362 265h2v1h-2zM389 265h1v1h-1zM189 266h1v1h-1zM254 266h1v1h-1zM262 266h2v1h-2zM300 266h1v1h-1zM305 266h2v1h-2zM310 266h1v1h-1zM313 266h3v1h-3zM323 266h2v1h-2zM334 266h3v1h-3zM340 266h2v1h-2zM343 266h1v1h-1zM345 266h5v1h-5zM352 266h1v1h-1zM360 266h2v1h-2zM387 266h2v1h-2zM188 267h1v1h-1zM253 267h1v1h-1zM260 267h3v1h-3zM298 267h2v1h-2zM303 267h2v1h-2zM308 267h2v1h-2zM312 267h2v1h-2zM321 267h2v1h-2zM332 267h3v1h-3zM338 267h2v1h-2zM341 267h7v1h-7zM350 267h2v1h-2zM358 267h2v1h-2zM385 267h2v1h-2zM188 268h1v1h-1zM252 268h1v1h-1zM259 268h1v1h-1zM261 268h1v1h-1zM296 268h2v1h-2zM301 268h2v1h-2zM306 268h2v1h-2zM310 268h2v1h-2zM320 268h1v1h-1zM330 268h2v1h-2zM333 268h1v1h-1zM337 268h1v1h-1zM339 268h5v1h-5zM345 268h1v1h-1zM348 268h2v1h-2zM357 268h1v1h-1zM383 268h2v1h-2zM187 269h1v1h-1zM251 269h1v1h-1zM258 269h1v1h-1zM260 269h1v1h-1zM295 269h1v1h-1zM299 269h2v1h-2zM305 269h1v1h-1zM308 269h3v1h-3zM318 269h2v1h-2zM328 269h2v1h-2zM331 269h2v1h-2zM335 269h2v1h-2zM338 269h1v1h-1zM340 269h5v1h-5zM347 269h2v1h-2zM355 269h2v1h-2zM381 269h2v1h-2zM186 270h1v1h-1zM250 270h1v1h-1zM257 270h1v1h-1zM259 270h1v1h-1zM293 270h2v1h-2zM297 270h2v1h-2zM303 270h2v1h-2zM307 270h2v1h-2zM316 270h2v1h-2zM326 270h2v1h-2zM330 270h1v1h-1zM334 270h1v1h-1zM336 270h7v1h-7zM345 270h3v1h-3zM353 270h2v1h-2zM380 270h1v1h-1zM185 271h1v1h-1zM249 271h1v1h-1zM256 271h1v1h-1zM258 271h1v1h-1zM292 271h1v1h-1zM295 271h2v1h-2zM301 271h2v1h-2zM305 271h3v1h-3zM315 271h1v1h-1zM324 271h2v1h-2zM329 271h1v1h-1zM332 271h4v1h-4zM337 271h5v1h-5zM343 271h3v1h-3zM351 271h2v1h-2zM378 271h2v1h-2zM184 272h1v1h-1zM248 272h1v1h-1zM255 272h1v1h-1zM257 272h1v1h-1zM290 272h2v1h-2zM293 272h2v1h-2zM300 272h1v1h-1zM303 272h3v1h-3zM313 272h2v1h-2zM322 272h2v1h-2zM328 272h1v1h-1zM330 272h2v1h-2zM333 272h7v1h-7zM342 272h1v1h-1zM344 272h1v1h-1zM349 272h2v1h-2zM376 272h2v1h-2zM184 273h1v1h-1zM247 273h1v1h-1zM254 273h1v1h-1zM256 273h1v1h-1zM289 273h1v1h-1zM291 273h2v1h-2zM298 273h2v1h-2zM301 273h2v1h-2zM304 273h1v1h-1zM311 273h2v1h-2zM320 273h2v1h-2zM326 273h2v1h-2zM329 273h1v1h-1zM331 273h2v1h-2zM334 273h4v1h-4zM340 273h4v1h-4zM347 273h2v1h-2zM374 273h2v1h-2zM183 274h1v1h-1zM246 274h1v1h-1zM253 274h1v1h-1zM255 274h1v1h-1zM287 274h4v1h-4zM296 274h2v1h-2zM299 274h2v1h-2zM302 274h2v1h-2zM309 274h2v1h-2zM318 274h2v1h-2zM325 274h1v1h-1zM327 274h10v1h-10zM338 274h2v1h-2zM341 274h1v1h-1zM345 274h2v1h-2zM372 274h2v1h-2zM182 275h1v1h-1zM245 275h1v1h-1zM252 275h1v1h-1zM254 275h1v1h-1zM286 275h1v1h-1zM288 275h1v1h-1zM295 275h1v1h-1zM298 275h1v1h-1zM301 275h1v1h-1zM308 275h1v1h-1zM317 275h1v1h-1zM324 275h1v1h-1zM326 275h1v1h-1zM328 275h2v1h-2zM331 275h4v1h-4zM337 275h1v1h-1zM340 275h1v1h-1zM344 275h1v1h-1zM371 275h1v1h-1zM181 276h1v1h-1zM244 276h1v1h-1zM251 276h1v1h-1zM253 276h1v1h-1zM284 276h2v1h-2zM287 276h1v1h-1zM294 276h1v1h-1zM297 276h1v1h-1zM300 276h1v1h-1zM307 276h1v1h-1zM315 276h2v1h-2zM323 276h11v1h-11zM335 276h2v1h-2zM338 276h2v1h-2zM343 276h1v1h-1zM369 276h2v1h-2zM180 277h1v1h-1zM243 277h1v1h-1zM250 277h1v1h-1zM252 277h1v1h-1zM283 277h1v1h-1zM286 277h1v1h-1zM294 277h1v1h-1zM296 277h1v1h-1zM300 277h1v1h-1zM305 277h2v1h-2zM314 277h1v1h-1zM321 277h3v1h-3zM325 277h7v1h-7zM334 277h1v1h-1zM337 277h1v1h-1zM341 277h2v1h-2zM367 277h2v1h-2zM179 278h1v1h-1zM243 278h1v1h-1zM250 278h2v1h-2zM282 278h1v1h-1zM285 278h1v1h-1zM293 278h1v1h-1zM295 278h1v1h-1zM299 278h1v1h-1zM304 278h1v1h-1zM312 278h2v1h-2zM320 278h3v1h-3zM324 278h7v1h-7zM333 278h1v1h-1zM336 278h1v1h-1zM340 278h1v1h-1zM365 278h2v1h-2zM179 279h1v1h-1zM242 279h1v1h-1zM249 279h1v1h-1zM251 279h1v1h-1zM280 279h2v1h-2zM284 279h1v1h-1zM293 279h2v1h-2zM299 279h1v1h-1zM303 279h1v1h-1zM311 279h1v1h-1zM319 279h2v1h-2zM322 279h8v1h-8zM331 279h2v1h-2zM334 279h2v1h-2zM339 279h1v1h-1zM363 279h2v1h-2zM178 280h1v1h-1zM241 280h1v1h-1zM248 280h1v1h-1zM250 280h1v1h-1zM279 280h1v1h-1zM283 280h1v1h-1zM292 280h2v1h-2zM298 280h1v1h-1zM302 280h1v1h-1zM309 280h2v1h-2zM318 280h2v1h-2zM321 280h1v1h-1zM323 280h3v1h-3zM327 280h1v1h-1zM330 280h1v1h-1zM333 280h1v1h-1zM338 280h1v1h-1zM361 280h2v1h-2zM177 281h1v1h-1zM240 281h1v1h-1zM247 281h1v1h-1zM249 281h1v1h-1zM277 281h2v1h-2zM282 281h1v1h-1zM291 281h2v1h-2zM297 281h1v1h-1zM300 281h2v1h-2zM308 281h1v1h-1zM317 281h1v1h-1zM320 281h1v1h-1zM322 281h1v1h-1zM324 281h1v1h-1zM326 281h1v1h-1zM329 281h1v1h-1zM332 281h1v1h-1zM337 281h1v1h-1zM359 281h2v1h-2zM176 282h1v1h-1zM239 282h1v1h-1zM246 282h1v1h-1zM248 282h1v1h-1zM276 282h1v1h-1zM281 282h1v1h-1zM290 282h2v1h-2zM297 282h1v1h-1zM299 282h1v1h-1zM306 282h2v1h-2zM315 282h2v1h-2zM318 282h8v1h-8zM327 282h2v1h-2zM330 282h2v1h-2zM335 282h2v1h-2zM357 282h2v1h-2zM175 283h1v1h-1zM239 283h1v1h-1zM246 283h2v1h-2zM275 283h1v1h-1zM281 283h1v1h-1zM289 283h2v1h-2zM296 283h1v1h-1zM298 283h1v1h-1zM305 283h1v1h-1zM313 283h2v1h-2zM317 283h1v1h-1zM319 283h1v1h-1zM321 283h1v1h-1zM323 283h1v1h-1zM326 283h1v1h-1zM329 283h1v1h-1zM334 283h1v1h-1zM355 283h2v1h-2zM174 284h1v1h-1zM238 284h1v1h-1zM245 284h2v1h-2zM273 284h2v1h-2zM280 284h1v1h-1zM288 284h1v1h-1zM290 284h1v1h-1zM296 284h2v1h-2zM304 284h1v1h-1zM312 284h2v1h-2zM316 284h1v1h-1zM318 284h1v1h-1zM320 284h1v1h-1zM322 284h1v1h-1zM325 284h1v1h-1zM328 284h1v1h-1zM333 284h1v1h-1zM353 284h2v1h-2zM173 285h1v1h-1zM237 285h1v1h-1zM244 285h2v1h-2zM272 285h1v1h-1zM279 285h1v1h-1zM287 285h1v1h-1zM289 285h1v1h-1zM295 285h1v1h-1zM302 285h2v1h-2zM310 285h3v1h-3zM314 285h8v1h-8zM323 285h2v1h-2zM326 285h2v1h-2zM332 285h1v1h-1zM351 285h2v1h-2zM172 286h1v1h-1zM236 286h1v1h-1zM243 286h2v1h-2zM270 286h2v1h-2zM278 286h1v1h-1zM286 286h1v1h-1zM288 286h1v1h-1zM294 286h1v1h-1zM301 286h1v1h-1zM309 286h1v1h-1zM311 286h1v1h-1zM313 286h1v1h-1zM315 286h3v1h-3zM319 286h2v1h-2zM322 286h1v1h-1zM325 286h1v1h-1zM331 286h1v1h-1zM349 286h2v1h-2zM172 287h1v1h-1zM235 287h1v1h-1zM242 287h1v1h-1zM244 287h1v1h-1zM269 287h1v1h-1zM277 287h1v1h-1zM285 287h1v1h-1zM288 287h1v1h-1zM293 287h2v1h-2zM299 287h2v1h-2zM307 287h4v1h-4zM312 287h5v1h-5zM318 287h2v1h-2zM321 287h1v1h-1zM324 287h1v1h-1zM329 287h2v1h-2zM347 287h2v1h-2zM171 288h1v1h-1zM235 288h1v1h-1zM242 288h2v1h-2zM268 288h1v1h-1zM276 288h1v1h-1zM284 288h1v1h-1zM287 288h1v1h-1zM291 288h3v1h-3zM298 288h1v1h-1zM306 288h1v1h-1zM308 288h1v1h-1zM310 288h8v1h-8zM319 288h2v1h-2zM322 288h2v1h-2zM328 288h1v1h-1zM345 288h2v1h-2zM170 289h1v1h-1zM234 289h1v1h-1zM241 289h2v1h-2zM266 289h2v1h-2zM275 289h1v1h-1zM283 289h1v1h-1zM287 289h1v1h-1zM290 289h1v1h-1zM293 289h1v1h-1zM296 289h2v1h-2zM304 289h2v1h-2zM307 289h1v1h-1zM309 289h5v1h-5zM315 289h2v1h-2zM318 289h1v1h-1zM321 289h1v1h-1zM327 289h1v1h-1zM343 289h2v1h-2zM169 290h1v1h-1zM233 290h1v1h-1zM240 290h2v1h-2zM265 290h1v1h-1zM274 290h1v1h-1zM282 290h1v1h-1zM286 290h1v1h-1zM289 290h1v1h-1zM292 290h1v1h-1zM295 290h1v1h-1zM303 290h1v1h-1zM306 290h1v1h-1zM308 290h2v1h-2zM311 290h2v1h-2zM314 290h2v1h-2zM317 290h1v1h-1zM320 290h1v1h-1zM326 290h1v1h-1zM342 290h1v1h-1zM169 291h1v1h-1zM232 291h1v1h-1zM238 291h2v1h-2zM241 291h1v1h-1zM263 291h2v1h-2zM273 291h1v1h-1zM281 291h1v1h-1zM285 291h1v1h-1zM287 291h2v1h-2zM291 291h1v1h-1zM294 291h1v1h-1zM301 291h2v1h-2zM304 291h11v1h-11zM316 291h1v1h-1zM318 291h2v1h-2zM325 291h1v1h-1zM340 291h2v1h-2zM168 292h1v1h-1zM230 292h2v1h-2zM236 292h2v1h-2zM240 292h1v1h-1zM261 292h2v1h-2zM271 292h2v1h-2zM279 292h2v1h-2zM284 292h1v1h-1zM286 292h1v1h-1zM290 292h1v1h-1zM293 292h1v1h-1zM299 292h2v1h-2zM302 292h11v1h-11zM314 292h4v1h-4zM324 292h1v1h-1zM339 292h1v1h-1zM168 293h1v1h-1zM229 293h1v1h-1zM235 293h1v1h-1zM240 293h1v1h-1zM259 293h2v1h-2zM270 293h1v1h-1zM278 293h1v1h-1zM283 293h3v1h-3zM289 293h1v1h-1zM292 293h1v1h-1zM297 293h2v1h-2zM300 293h2v1h-2zM303 293h8v1h-8zM313 293h3v1h-3zM323 293h1v1h-1zM338 293h1v1h-1zM167 294h1v1h-1zM228 294h1v1h-1zM233 294h2v1h-2zM239 294h1v1h-1zM257 294h2v1h-2zM269 294h1v1h-1zM277 294h1v1h-1zM282 294h2v1h-2zM287 294h2v1h-2zM290 294h2v1h-2zM296 294h1v1h-1zM299 294h1v1h-1zM301 294h9v1h-9zM312 294h2v1h-2zM322 294h1v1h-1zM336 294h2v1h-2zM167 295h1v1h-1zM227 295h1v1h-1zM231 295h2v1h-2zM239 295h1v1h-1zM255 295h2v1h-2zM268 295h1v1h-1zM276 295h1v1h-1zM281 295h2v1h-2zM286 295h1v1h-1zM289 295h1v1h-1zM294 295h2v1h-2zM297 295h4v1h-4zM302 295h1v1h-1zM304 295h4v1h-4zM311 295h2v1h-2zM321 295h1v1h-1zM335 295h1v1h-1zM166 296h1v1h-1zM225 296h2v1h-2zM230 296h1v1h-1zM238 296h1v1h-1zM253 296h2v1h-2zM267 296h1v1h-1zM274 296h2v1h-2zM280 296h1v1h-1zM285 296h1v1h-1zM288 296h1v1h-1zM292 296h2v1h-2zM295 296h4v1h-4zM300 296h4v1h-4zM305 296h1v1h-1zM309 296h2v1h-2zM320 296h1v1h-1zM333 296h2v1h-2zM166 297h1v1h-1zM224 297h1v1h-1zM228 297h2v1h-2zM238 297h1v1h-1zM251 297h2v1h-2zM265 297h2v1h-2zM273 297h1v1h-1zM278 297h2v1h-2zM284 297h1v1h-1zM287 297h1v1h-1zM290 297h2v1h-2zM293 297h9v1h-9zM303 297h2v1h-2zM307 297h3v1h-3zM318 297h2v1h-2zM332 297h1v1h-1zM165 298h1v1h-1zM223 298h1v1h-1zM226 298h2v1h-2zM237 298h1v1h-1zM249 298h2v1h-2zM264 298h1v1h-1zM272 298h1v1h-1zM277 298h1v1h-1zM279 298h1v1h-1zM283 298h1v1h-1zM286 298h1v1h-1zM289 298h1v1h-1zM292 298h1v1h-1zM294 298h4v1h-4zM299 298h1v1h-1zM301 298h2v1h-2zM306 298h2v1h-2zM317 298h1v1h-1zM331 298h1v1h-1zM165 299h1v1h-1zM221 299h2v1h-2zM225 299h1v1h-1zM237 299h1v1h-1zM247 299h2v1h-2zM263 299h1v1h-1zM270 299h2v1h-2zM276 299h1v1h-1zM278 299h1v1h-1zM282 299h1v1h-1zM285 299h1v1h-1zM287 299h2v1h-2zM290 299h6v1h-6zM297 299h2v1h-2zM300 299h1v1h-1zM304 299h3v1h-3zM316 299h1v1h-1zM329 299h2v1h-2zM164 300h1v1h-1zM220 300h1v1h-1zM223 300h2v1h-2zM236 300h1v1h-1zM245 300h2v1h-2zM262 300h1v1h-1zM269 300h1v1h-1zM274 300h2v1h-2zM277 300h1v1h-1zM281 300h1v1h-1zM284 300h3v1h-3zM288 300h6v1h-6zM295 300h2v1h-2zM298 300h2v1h-2zM302 300h2v1h-2zM305 300h1v1h-1zM315 300h1v1h-1zM328 300h1v1h-1zM164 301h1v1h-1zM219 301h1v1h-1zM221 301h2v1h-2zM236 301h1v1h-1zM243 301h2v1h-2zM261 301h1v1h-1zM268 301h1v1h-1zM273 301h1v1h-1zM276 301h1v1h-1zM279 301h2v1h-2zM282 301h3v1h-3zM287 301h11v1h-11zM301 301h1v1h-1zM304 301h1v1h-1zM314 301h1v1h-1zM326 301h2v1h-2zM163 302h1v1h-1zM218 302h1v1h-1zM220 302h1v1h-1zM235 302h1v1h-1zM241 302h2v1h-2zM259 302h2v1h-2zM267 302h1v1h-1zM271 302h2v1h-2zM275 302h1v1h-1zM278 302h1v1h-1zM281 302h3v1h-3zM285 302h9v1h-9zM295 302h1v1h-1zM299 302h2v1h-2zM302 302h2v1h-2zM313 302h1v1h-1zM325 302h1v1h-1zM163 303h1v1h-1zM216 303h4v1h-4zM235 303h1v1h-1zM239 303h2v1h-2zM258 303h1v1h-1zM265 303h2v1h-2zM270 303h1v1h-1zM274 303h1v1h-1zM277 303h1v1h-1zM280 303h2v1h-2zM283 303h9v1h-9zM293 303h2v1h-2zM297 303h2v1h-2zM301 303h1v1h-1zM312 303h1v1h-1zM324 303h1v1h-1zM162 304h1v1h-1zM215 304h3v1h-3zM234 304h1v1h-1zM237 304h2v1h-2zM257 304h1v1h-1zM264 304h1v1h-1zM268 304h2v1h-2zM273 304h1v1h-1zM276 304h1v1h-1zM278 304h2v1h-2zM281 304h12v1h-12zM295 304h2v1h-2zM300 304h1v1h-1zM311 304h1v1h-1zM322 304h2v1h-2zM162 305h1v1h-1zM214 305h2v1h-2zM234 305h3v1h-3zM256 305h1v1h-1zM263 305h1v1h-1zM267 305h1v1h-1zM272 305h1v1h-1zM275 305h1v1h-1zM277 305h2v1h-2zM280 305h2v1h-2zM283 305h2v1h-2zM286 305h1v1h-1zM288 305h1v1h-1zM290 305h1v1h-1zM294 305h1v1h-1zM299 305h1v1h-1zM310 305h1v1h-1zM321 305h1v1h-1zM161 306h1v1h-1zM212 306h3v1h-3zM232 306h3v1h-3zM254 306h2v1h-2zM262 306h1v1h-1zM265 306h2v1h-2zM270 306h2v1h-2zM273 306h17v1h-17zM292 306h2v1h-2zM297 306h2v1h-2zM308 306h2v1h-2zM319 306h2v1h-2zM160 307h1v1h-1zM211 307h2v1h-2zM230 307h3v1h-3zM252 307h2v1h-2zM260 307h2v1h-2zM263 307h2v1h-2zM269 307h1v1h-1zM271 307h8v1h-8zM280 307h4v1h-4zM285 307h3v1h-3zM291 307h1v1h-1zM296 307h1v1h-1zM306 307h2v1h-2zM317 307h2v1h-2zM159 308h1v1h-1zM209 308h3v1h-3zM228 308h3v1h-3zM250 308h2v1h-2zM259 308h1v1h-1zM261 308h2v1h-2zM268 308h3v1h-3zM272 308h5v1h-5zM278 308h2v1h-2zM281 308h1v1h-1zM284 308h2v1h-2zM289 308h2v1h-2zM294 308h2v1h-2zM305 308h1v1h-1zM316 308h1v1h-1zM158 309h1v1h-1zM208 309h2v1h-2zM226 309h3v1h-3zM248 309h2v1h-2zM258 309h3v1h-3zM266 309h3v1h-3zM270 309h6v1h-6zM277 309h1v1h-1zM279 309h2v1h-2zM282 309h2v1h-2zM288 309h1v1h-1zM293 309h1v1h-1zM303 309h2v1h-2zM314 309h2v1h-2zM157 310h1v1h-1zM206 310h3v1h-3zM224 310h3v1h-3zM247 310h1v1h-1zM257 310h2v1h-2zM265 310h9v1h-9zM275 310h2v1h-2zM278 310h1v1h-1zM281 310h2v1h-2zM286 310h2v1h-2zM291 310h2v1h-2zM302 310h1v1h-1zM313 310h1v1h-1zM156 311h1v1h-1zM205 311h2v1h-2zM222 311h3v1h-3zM245 311h2v1h-2zM256 311h2v1h-2zM263 311h3v1h-3zM267 311h1v1h-1zM269 311h6v1h-6zM276 311h2v1h-2zM279 311h2v1h-2zM285 311h1v1h-1zM290 311h1v1h-1zM300 311h2v1h-2zM311 311h2v1h-2zM155 312h1v1h-1zM203 312h3v1h-3zM220 312h3v1h-3zM243 312h2v1h-2zM254 312h2v1h-2zM262 312h2v1h-2zM265 312h11v1h-11zM277 312h2v1h-2zM283 312h2v1h-2zM288 312h2v1h-2zM298 312h2v1h-2zM309 312h2v1h-2zM155 313h1v1h-1zM202 313h2v1h-2zM218 313h3v1h-3zM241 313h2v1h-2zM252 313h2v1h-2zM261 313h1v1h-1zM263 313h4v1h-4zM268 313h1v1h-1zM270 313h2v1h-2zM273 313h1v1h-1zM276 313h2v1h-2zM282 313h1v1h-1zM287 313h1v1h-1zM297 313h1v1h-1zM308 313h1v1h-1zM154 314h1v1h-1zM201 314h1v1h-1zM216 314h3v1h-3zM239 314h2v1h-2zM250 314h3v1h-3zM259 314h2v1h-2zM262 314h1v1h-1zM264 314h6v1h-6zM271 314h2v1h-2zM274 314h3v1h-3zM281 314h1v1h-1zM286 314h1v1h-1zM295 314h2v1h-2zM306 314h2v1h-2zM153 315h1v1h-1zM199 315h2v1h-2zM214 315h3v1h-3zM238 315h1v1h-1zM249 315h1v1h-1zM251 315h1v1h-1zM257 315h2v1h-2zM260 315h4v1h-4zM265 315h4v1h-4zM270 315h1v1h-1zM272 315h3v1h-3zM279 315h2v1h-2zM284 315h2v1h-2zM294 315h1v1h-1zM305 315h1v1h-1zM152 316h1v1h-1zM198 316h1v1h-1zM212 316h3v1h-3zM236 316h2v1h-2zM247 316h2v1h-2zM250 316h1v1h-1zM256 316h4v1h-4zM261 316h1v1h-1zM263 316h4v1h-4zM268 316h2v1h-2zM271 316h3v1h-3zM278 316h1v1h-1zM283 316h1v1h-1zM292 316h2v1h-2zM303 316h2v1h-2zM151 317h1v1h-1zM196 317h2v1h-2zM210 317h3v1h-3zM234 317h2v1h-2zM245 317h2v1h-2zM248 317h2v1h-2zM254 317h2v1h-2zM257 317h1v1h-1zM259 317h9v1h-9zM269 317h3v1h-3zM276 317h2v1h-2zM281 317h2v1h-2zM290 317h2v1h-2zM301 317h2v1h-2zM150 318h1v1h-1zM195 318h1v1h-1zM208 318h3v1h-3zM232 318h2v1h-2zM243 318h2v1h-2zM247 318h1v1h-1zM252 318h7v1h-7zM260 318h4v1h-4zM265 318h1v1h-1zM267 318h2v1h-2zM270 318h1v1h-1zM275 318h1v1h-1zM280 318h1v1h-1zM289 318h1v1h-1zM300 318h1v1h-1zM149 319h1v1h-1zM193 319h2v1h-2zM206 319h3v1h-3zM230 319h2v1h-2zM241 319h2v1h-2zM246 319h1v1h-1zM250 319h17v1h-17zM268 319h2v1h-2zM273 319h2v1h-2zM278 319h2v1h-2zM287 319h2v1h-2zM298 319h2v1h-2zM148 320h1v1h-1zM192 320h1v1h-1zM205 320h2v1h-2zM229 320h1v1h-1zM239 320h2v1h-2zM244 320h2v1h-2zM248 320h13v1h-13zM262 320h3v1h-3zM267 320h1v1h-1zM272 320h1v1h-1zM276 320h2v1h-2zM286 320h1v1h-1zM297 320h1v1h-1zM147 321h1v1h-1zM190 321h2v1h-2zM203 321h3v1h-3zM227 321h2v1h-2zM237 321h2v1h-2zM242 321h2v1h-2zM246 321h13v1h-13zM260 321h3v1h-3zM265 321h2v1h-2zM270 321h2v1h-2zM274 321h2v1h-2zM284 321h2v1h-2zM295 321h2v1h-2zM146 322h1v1h-1zM188 322h3v1h-3zM201 322h3v1h-3zM226 322h1v1h-1zM235 322h2v1h-2zM240 322h2v1h-2zM243 322h14v1h-14zM258 322h3v1h-3zM263 322h2v1h-2zM269 322h1v1h-1zM272 322h2v1h-2zM282 322h2v1h-2zM293 322h2v1h-2zM145 323h1v1h-1zM186 323h2v1h-2zM189 323h1v1h-1zM200 323h1v1h-1zM202 323h1v1h-1zM224 323h2v1h-2zM233 323h2v1h-2zM238 323h2v1h-2zM241 323h14v1h-14zM256 323h3v1h-3zM261 323h2v1h-2zM268 323h1v1h-1zM270 323h2v1h-2zM281 323h1v1h-1zM292 323h1v1h-1zM143 324h2v1h-2zM184 324h2v1h-2zM188 324h1v1h-1zM198 324h4v1h-4zM223 324h1v1h-1zM231 324h2v1h-2zM236 324h17v1h-17zM254 324h3v1h-3zM259 324h2v1h-2zM266 324h4v1h-4zM279 324h2v1h-2zM290 324h2v1h-2zM142 325h1v1h-1zM183 325h1v1h-1zM187 325h1v1h-1zM197 325h1v1h-1zM199 325h1v1h-1zM221 325h2v1h-2zM229 325h2v1h-2zM234 325h4v1h-4zM239 325h9v1h-9zM249 325h2v1h-2zM252 325h3v1h-3zM257 325h2v1h-2zM265 325h3v1h-3zM277 325h2v1h-2zM288 325h2v1h-2zM141 326h1v1h-1zM181 326h2v1h-2zM186 326h1v1h-1zM195 326h4v1h-4zM220 326h1v1h-1zM227 326h2v1h-2zM232 326h11v1h-11zM244 326h2v1h-2zM247 326h2v1h-2zM250 326h2v1h-2zM255 326h2v1h-2zM263 326h2v1h-2zM276 326h1v1h-1zM287 326h1v1h-1zM140 327h1v1h-1zM179 327h2v1h-2zM185 327h1v1h-1zM193 327h2v1h-2zM196 327h1v1h-1zM218 327h2v1h-2zM225 327h2v1h-2zM230 327h3v1h-3zM234 327h13v1h-13zM248 327h2v1h-2zM253 327h2v1h-2zM261 327h2v1h-2zM274 327h2v1h-2zM285 327h2v1h-2zM139 328h1v1h-1zM177 328h2v1h-2zM185 328h1v1h-1zM192 328h1v1h-1zM195 328h1v1h-1zM216 328h2v1h-2zM223 328h2v1h-2zM228 328h3v1h-3zM232 328h4v1h-4zM237 328h7v1h-7zM246 328h2v1h-2zM251 328h2v1h-2zM259 328h3v1h-3zM272 328h2v1h-2zM283 328h2v1h-2zM138 329h1v1h-1zM175 329h2v1h-2zM184 329h1v1h-1zM190 329h2v1h-2zM193 329h2v1h-2zM215 329h1v1h-1zM221 329h2v1h-2zM226 329h8v1h-8zM235 329h7v1h-7zM244 329h3v1h-3zM249 329h2v1h-2zM257 329h4v1h-4zM271 329h1v1h-1zM282 329h1v1h-1zM137 330h1v1h-1zM174 330h1v1h-1zM183 330h1v1h-1zM189 330h1v1h-1zM192 330h1v1h-1zM213 330h2v1h-2zM219 330h2v1h-2zM224 330h2v1h-2zM227 330h13v1h-13zM241 330h4v1h-4zM247 330h2v1h-2zM254 330h3v1h-3zM258 330h1v1h-1zM269 330h2v1h-2zM280 330h2v1h-2zM135 331h2v1h-2zM172 331h2v1h-2zM182 331h1v1h-1zM187 331h2v1h-2zM190 331h2v1h-2zM212 331h1v1h-1zM217 331h2v1h-2zM221 331h3v1h-3zM225 331h13v1h-13zM239 331h4v1h-4zM245 331h2v1h-2zM252 331h2v1h-2zM256 331h2v1h-2zM267 331h2v1h-2zM278 331h2v1h-2zM134 332h1v1h-1zM170 332h2v1h-2zM181 332h1v1h-1zM185 332h2v1h-2zM189 332h1v1h-1zM210 332h2v1h-2zM215 332h2v1h-2zM219 332h17v1h-17zM237 332h4v1h-4zM243 332h2v1h-2zM250 332h2v1h-2zM255 332h1v1h-1zM266 332h1v1h-1zM277 332h1v1h-1zM133 333h1v1h-1zM168 333h2v1h-2zM180 333h1v1h-1zM184 333h1v1h-1zM188 333h1v1h-1zM209 333h1v1h-1zM213 333h2v1h-2zM216 333h18v1h-18zM235 333h4v1h-4zM241 333h2v1h-2zM248 333h2v1h-2zM254 333h1v1h-1zM264 333h2v1h-2zM275 333h2v1h-2zM132 334h1v1h-1zM166 334h2v1h-2zM179 334h1v1h-1zM182 334h2v1h-2zM186 334h2v1h-2zM207 334h2v1h-2zM211 334h2v1h-2zM214 334h18v1h-18zM233 334h4v1h-4zM239 334h2v1h-2zM246 334h2v1h-2zM252 334h2v1h-2zM262 334h2v1h-2zM273 334h2v1h-2zM131 335h1v1h-1zM165 335h1v1h-1zM177 335h2v1h-2zM181 335h1v1h-1zM185 335h1v1h-1zM205 335h2v1h-2zM208 335h27v1h-27zM237 335h2v1h-2zM243 335h3v1h-3zM250 335h2v1h-2zM260 335h2v1h-2zM271 335h2v1h-2zM130 336h1v1h-1zM163 336h2v1h-2zM175 336h2v1h-2zM179 336h2v1h-2zM183 336h2v1h-2zM203 336h2v1h-2zM206 336h2v1h-2zM209 336h18v1h-18zM228 336h2v1h-2zM231 336h2v1h-2zM235 336h2v1h-2zM240 336h3v1h-3zM247 336h3v1h-3zM257 336h3v1h-3zM267 336h4v1h-4zM129 337h1v1h-1zM162 337h1v1h-1zM173 337h2v1h-2zM177 337h2v1h-2zM181 337h2v1h-2zM201 337h2v1h-2zM204 337h21v1h-21zM226 337h2v1h-2zM229 337h2v1h-2zM232 337h3v1h-3zM238 337h2v1h-2zM244 337h3v1h-3zM253 337h4v1h-4zM263 337h4v1h-4zM128 338h1v1h-1zM160 338h2v1h-2zM170 338h3v1h-3zM175 338h2v1h-2zM179 338h2v1h-2zM199 338h2v1h-2zM202 338h4v1h-4zM207 338h16v1h-16zM224 338h2v1h-2zM227 338h5v1h-5zM235 338h3v1h-3zM241 338h3v1h-3zM250 338h3v1h-3zM259 338h4v1h-4zM126 339h2v1h-2zM159 339h1v1h-1zM168 339h2v1h-2zM173 339h2v1h-2zM177 339h2v1h-2zM196 339h3v1h-3zM200 339h4v1h-4zM205 339h3v1h-3zM209 339h5v1h-5zM215 339h5v1h-5zM221 339h3v1h-3zM225 339h4v1h-4zM232 339h3v1h-3zM239 339h2v1h-2zM247 339h3v1h-3zM255 339h4v1h-4zM125 340h1v1h-1zM157 340h2v1h-2zM166 340h2v1h-2zM172 340h1v1h-1zM176 340h1v1h-1zM194 340h2v1h-2zM198 340h3v1h-3zM203 340h15v1h-15zM219 340h2v1h-2zM222 340h5v1h-5zM230 340h2v1h-2zM236 340h3v1h-3zM244 340h3v1h-3zM252 340h3v1h-3zM124 341h1v1h-1zM156 341h1v1h-1zM163 341h3v1h-3zM170 341h2v1h-2zM174 341h2v1h-2zM192 341h2v1h-2zM196 341h3v1h-3zM201 341h5v1h-5zM207 341h5v1h-5zM213 341h3v1h-3zM217 341h2v1h-2zM220 341h4v1h-4zM227 341h3v1h-3zM233 341h3v1h-3zM240 341h4v1h-4zM248 341h4v1h-4zM123 342h1v1h-1zM154 342h2v1h-2zM161 342h2v1h-2zM168 342h2v1h-2zM172 342h2v1h-2zM189 342h3v1h-3zM193 342h3v1h-3zM199 342h2v1h-2zM202 342h2v1h-2zM205 342h2v1h-2zM208 342h2v1h-2zM211 342h2v1h-2zM214 342h3v1h-3zM218 342h4v1h-4zM224 342h3v1h-3zM230 342h3v1h-3zM237 342h3v1h-3zM244 342h4v1h-4zM122 343h1v1h-1zM152 343h2v1h-2zM159 343h2v1h-2zM166 343h2v1h-2zM170 343h2v1h-2zM187 343h2v1h-2zM191 343h3v1h-3zM197 343h2v1h-2zM200 343h2v1h-2zM203 343h2v1h-2zM206 343h2v1h-2zM209 343h2v1h-2zM212 343h2v1h-2zM216 343h3v1h-3zM222 343h2v1h-2zM227 343h3v1h-3zM234 343h3v1h-3zM240 343h4v1h-4zM121 344h1v1h-1zM151 344h1v1h-1zM156 344h3v1h-3zM164 344h2v1h-2zM168 344h2v1h-2zM185 344h2v1h-2zM188 344h4v1h-4zM194 344h3v1h-3zM198 344h5v1h-5zM204 344h5v1h-5zM210 344h2v1h-2zM214 344h2v1h-2zM219 344h3v1h-3zM224 344h3v1h-3zM230 344h4v1h-4zM236 344h4v1h-4zM120 345h1v1h-1zM149 345h2v1h-2zM154 345h2v1h-2zM163 345h1v1h-1zM167 345h1v1h-1zM183 345h2v1h-2zM186 345h4v1h-4zM192 345h15v1h-15zM208 345h2v1h-2zM211 345h3v1h-3zM216 345h3v1h-3zM221 345h3v1h-3zM227 345h3v1h-3zM233 345h3v1h-3zM118 346h2v1h-2zM148 346h1v1h-1zM152 346h2v1h-2zM161 346h2v1h-2zM165 346h2v1h-2zM180 346h8v1h-8zM190 346h5v1h-5zM196 346h5v1h-5zM202 346h6v1h-6zM209 346h2v1h-2zM214 346h2v1h-2zM219 346h2v1h-2zM224 346h3v1h-3zM229 346h4v1h-4zM117 347h1v1h-1zM146 347h2v1h-2zM149 347h3v1h-3zM159 347h2v1h-2zM163 347h2v1h-2zM178 347h2v1h-2zM181 347h2v1h-2zM184 347h2v1h-2zM187 347h18v1h-18zM206 347h3v1h-3zM211 347h3v1h-3zM216 347h3v1h-3zM221 347h3v1h-3zM225 347h4v1h-4zM116 348h1v1h-1zM145 348h1v1h-1zM147 348h2v1h-2zM157 348h2v1h-2zM161 348h2v1h-2zM176 348h5v1h-5zM182 348h2v1h-2zM185 348h22v1h-22zM208 348h3v1h-3zM213 348h3v1h-3zM217 348h8v1h-8zM115 349h1v1h-1zM143 349h4v1h-4zM155 349h2v1h-2zM159 349h2v1h-2zM174 349h4v1h-4zM180 349h2v1h-2zM183 349h22v1h-22zM206 349h2v1h-2zM210 349h3v1h-3zM214 349h7v1h-7zM114 350h1v1h-1zM141 350h4v1h-4zM153 350h2v1h-2zM157 350h2v1h-2zM171 350h5v1h-5zM178 350h2v1h-2zM181 350h29v1h-29zM211 350h6v1h-6zM112 351h2v1h-2zM139 351h3v1h-3zM150 351h3v1h-3zM154 351h3v1h-3zM168 351h3v1h-3zM172 351h2v1h-2zM176 351h2v1h-2zM179 351h27v1h-27zM208 351h6v1h-6zM111 352h1v1h-1zM137 352h3v1h-3zM148 352h2v1h-2zM151 352h3v1h-3zM164 352h4v1h-4zM171 352h1v1h-1zM174 352h2v1h-2zM177 352h24v1h-24zM204 352h6v1h-6zM110 353h1v1h-1zM135 353h3v1h-3zM145 353h3v1h-3zM149 353h2v1h-2zM161 353h3v1h-3zM169 353h2v1h-2zM172 353h2v1h-2zM175 353h21v1h-21zM201 353h6v1h-6zM108 354h2v1h-2zM133 354h3v1h-3zM142 354h3v1h-3zM146 354h3v1h-3zM158 354h3v1h-3zM168 354h1v1h-1zM171 354h1v1h-1zM173 354h18v1h-18zM198 354h6v1h-6zM107 355h1v1h-1zM131 355h3v1h-3zM140 355h2v1h-2zM143 355h3v1h-3zM155 355h3v1h-3zM166 355h2v1h-2zM169 355h16v1h-16zM195 355h5v1h-5zM106 356h1v1h-1zM129 356h3v1h-3zM137 356h6v1h-6zM152 356h3v1h-3zM164 356h5v1h-5zM170 356h12v1h-12zM192 356h5v1h-5zM104 357h2v1h-2zM126 357h4v1h-4zM134 357h6v1h-6zM148 357h4v1h-4zM158 357h22v1h-22zM188 357h5v1h-5zM103 358h1v1h-1zM124 358h4v1h-4zM132 358h2v1h-2zM135 358h2v1h-2zM145 358h3v1h-3zM153 358h5v1h-5zM160 358h18v1h-18zM185 358h5v1h-5zM102 359h1v1h-1zM122 359h4v1h-4zM129 359h6v1h-6zM142 359h3v1h-3zM148 359h5v1h-5zM154 359h22v1h-22zM182 359h5v1h-5zM100 360h2v1h-2zM120 360h4v1h-4zM126 360h6v1h-6zM139 360h3v1h-3zM143 360h5v1h-5zM149 360h5v1h-5zM155 360h19v1h-19zM179 360h4v1h-4zM99 361h1v1h-1zM118 361h4v1h-4zM124 361h5v1h-5zM136 361h7v1h-7zM144 361h28v1h-28zM176 361h4v1h-4zM98 362h1v1h-1zM116 362h4v1h-4zM121 362h5v1h-5zM132 362h6v1h-6zM139 362h13v1h-13zM153 362h17v1h-17zM172 362h4v1h-4zM96 363h2v1h-2zM114 363h9v1h-9zM127 363h5v1h-5zM133 363h15v1h-15zM149 363h19v1h-19zM169 363h4v1h-4zM95 364h1v1h-1zM112 364h9v1h-9zM122 364h11v1h-11zM134 364h5v1h-5zM140 364h4v1h-4zM145 364h4v1h-4zM150 364h20v1h-20zM94 365h1v1h-1zM110 365h8v1h-8zM119 365h3v1h-3zM124 365h4v1h-4zM131 365h3v1h-3zM137 365h3v1h-3zM143 365h2v1h-2zM148 365h2v1h-2zM151 365h2v1h-2zM154 365h2v1h-2zM157 365h2v1h-2zM160 365h2v1h-2zM163 365h3v1h-3z"/>
<g fill="#000" shape-rendering="crispEdges">
<rect x="65" y="65" width="551" height="1"/>
<rect x="65" y="375" width="551" height="1"/>
<rect x="65" y="65" width="1" height="311"/>
<rect x="615" y="65" width="1" height="311"/>
<rect x="128" y="65" width="1" height="6"/>
<rect x="128" y="370" width="1" height="6"/>
<rect x="181" y="65" width="1" height="11"/>
<rect x="181" y="365" width="1" height="11"/>
<rect x="234" y="65" width="1" height="6"/>
<rect x="234" y="370" width="1" height="6"/>
<rect x="287" y="65" width="1" height="11"/>
<rect x="287" y="365" width="1" height="11"/>
<rect x="340" y="65" width="1" height="6"/>
<rect x="340" y="370" width="1" height="6"/>
<rect x="393" y="65" width="1" height="11"/>
<rect x="393" y="365" width="1" height="11"/>
<rect x="446" y="65" width="1" height="6"/>
<rect x="446" y="370" width="1" height="6"/>
<rect x="499" y="65" width="1" height="11"/>
<rect x="499" y="365" width="1" height="11"/>
<rect x="552" y="65" width="1" height="6"/>
<rect x="552" y="370" width="1" height="6"/>
<rect x="605" y="65" width="1" height="11"/>
<rect x="605" y="365" width="1" height="11"/>
<rect x="65" y="336" width="6" height="1"/>
<rect x="610" y="336" width="6" height="1"/>
<rect x="65" y="307" width="6" height="1"/>
<rect x="610" y="307" width="6" height="1"/>
<rect x="65" y="278" width="6" height="1"/>
<rect x="610" y="278" width="6" height="1"/>
<rect x="65" y="249" width="6" height="1"/>
<rect x="610" y="249" width="6" height="1"/>
<rect x="65" y="220" width="11" height="1"/>
<rect x="605" y="220" width="11" height="1"/>
<rect x="65" y="191" width="6" height="1"/>
<rect x="610" y="191" width="6" height="1"/>
<rect x="65" y="162" width="6" height="1"/>
<rect x="610" y="162" width="6" height="1"/>
<rect x="65" y="133" width="6" height="1"/>
<rect x="610" y="133" width="6" height="1"/>
<rect x="65" y="104" width="6" height="1"/>
<rect x="610" y="104" width="6" height="1"/>
<rect x="65" y="75" width="11" height="1"/>
<rect x="605" y="75" width="11" height="1"/>
</g>
<g font-weight="bold" fill="#000">
<text font-family="'Liberation Sans', sans-serif" font-size="14.2px" text-anchor="middle" transform="translate(348,30) scale(1.06,1)" x="-31.70 -22.64 -13.58 -4.53 4.53 13.58 22.64 31.70">R0989-D1</text>
<text font-family="'Liberation Mono', monospace" font-size="16px" font-weight="normal" stroke="#000" stroke-width="0.7" text-anchor="middle" transform="translate(334.7,420) scale(1,0.82)">Percent of Residues (CA)</text>
<text font-family="'Liberation Mono', monospace" font-size="16px" font-weight="normal" stroke="#000" stroke-width="0.7" text-anchor="middle" transform="translate(30,232) rotate(-90) scale(1,0.82)">Distance Cutoff, A</text>
<text font-family="'Liberation Sans', sans-serif" font-size="14.2px" text-anchor="middle" transform="translate(64.8,395) scale(1.06,1)" x="0.00">0</text>
<text font-family="'Liberation Sans', sans-serif" font-size="14.2px" text-anchor="middle" transform="translate(180.3,395) scale(1.06,1)" x="-4.53 4.53">20</text>
<text font-family="'Liberation Sans', sans-serif" font-size="14.2px" text-anchor="middle" transform="translate(286.3,395) scale(1.06,1)" x="-4.53 4.53">40</text>
<text font-family="'Liberation Sans', sans-serif" font-size="14.2px" text-anchor="middle" transform="translate(392.3,395) scale(1.06,1)" x="-4.53 4.53">60</text>
<text font-family="'Liberation Sans', sans-serif" font-size="14.2px" text-anchor="middle" transform="translate(498.3,395) scale(1.06,1)" x="-4.53 4.53">80</text>
<text font-family="'Liberation Sans', sans-serif" font-size="14.2px" text-anchor="middle" transform="translate(609.4,395) scale(1.06,1)" x="-9.06 0.00 9.06">100</text>
<text font-family="'Liberation Sans', sans-serif" font-size="14.2px" text-anchor="middle" transform="translate(55.5,375) rotate(-90) scale(1.06,1)" x="0.00">0</text>
<text font-family="'Liberation Sans', sans-serif" font-size="14.2px" text-anchor="middle" transform="translate(55.5,220.3) rotate(-90) scale(1.06,1)" x="0.00">5</text>
<text font-family="'Liberation Sans', sans-serif" font-size="14.2px" text-anchor="middle" transform="translate(55.5,65.6) rotate(-90) scale(1.06,1)" x="-4.53 4.53">10</text>
</g>

</svg>
</body></html>
